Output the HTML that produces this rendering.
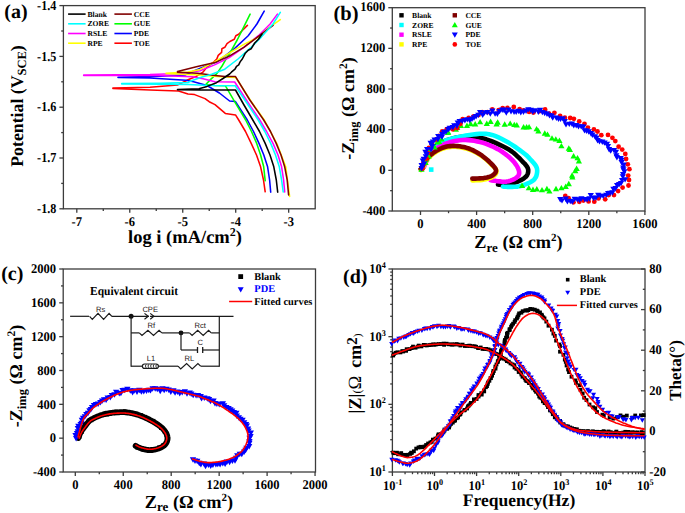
<!DOCTYPE html>
<html><head><meta charset="utf-8"><style>
html,body{margin:0;padding:0;background:#fff;width:685px;height:513px;overflow:hidden}
svg{display:block}
</style></head><body>
<svg width="685" height="513" viewBox="0 0 685 513" style="text-rendering:geometricPrecision">
<rect width="685" height="513" fill="#fff"/>
<rect x="63.40" y="5.60" width="251.80" height="203.20" fill="none" stroke="#3c3c3c" stroke-width="1.3"/>
<line x1="76.80" y1="208.80" x2="76.80" y2="212.80" stroke="#3c3c3c" stroke-width="1.3"/>
<text x="76.80" y="225.80" font-family="Liberation Serif" font-size="13.2" font-weight="bold" text-anchor="middle" fill="#000" textLength="10.45" lengthAdjust="spacingAndGlyphs">-7</text>
<line x1="129.77" y1="208.80" x2="129.77" y2="212.80" stroke="#3c3c3c" stroke-width="1.3"/>
<text x="129.77" y="225.80" font-family="Liberation Serif" font-size="13.2" font-weight="bold" text-anchor="middle" fill="#000" textLength="10.45" lengthAdjust="spacingAndGlyphs">-6</text>
<line x1="182.74" y1="208.80" x2="182.74" y2="212.80" stroke="#3c3c3c" stroke-width="1.3"/>
<text x="182.74" y="225.80" font-family="Liberation Serif" font-size="13.2" font-weight="bold" text-anchor="middle" fill="#000" textLength="10.45" lengthAdjust="spacingAndGlyphs">-5</text>
<line x1="235.71" y1="208.80" x2="235.71" y2="212.80" stroke="#3c3c3c" stroke-width="1.3"/>
<text x="235.71" y="225.80" font-family="Liberation Serif" font-size="13.2" font-weight="bold" text-anchor="middle" fill="#000" textLength="10.45" lengthAdjust="spacingAndGlyphs">-4</text>
<line x1="288.68" y1="208.80" x2="288.68" y2="212.80" stroke="#3c3c3c" stroke-width="1.3"/>
<text x="288.68" y="225.80" font-family="Liberation Serif" font-size="13.2" font-weight="bold" text-anchor="middle" fill="#000" textLength="10.45" lengthAdjust="spacingAndGlyphs">-3</text>
<line x1="103.28" y1="208.80" x2="103.28" y2="211.00" stroke="#3c3c3c" stroke-width="1.3"/>
<line x1="156.25" y1="208.80" x2="156.25" y2="211.00" stroke="#3c3c3c" stroke-width="1.3"/>
<line x1="209.23" y1="208.80" x2="209.23" y2="211.00" stroke="#3c3c3c" stroke-width="1.3"/>
<line x1="262.19" y1="208.80" x2="262.19" y2="211.00" stroke="#3c3c3c" stroke-width="1.3"/>
<line x1="59.40" y1="5.60" x2="63.40" y2="5.60" stroke="#3c3c3c" stroke-width="1.3"/>
<text x="56.30" y="9.70" font-family="Liberation Serif" font-size="13.6" font-weight="bold" text-anchor="end" fill="#000" textLength="19.2" lengthAdjust="spacingAndGlyphs">-1.4</text>
<line x1="59.40" y1="56.40" x2="63.40" y2="56.40" stroke="#3c3c3c" stroke-width="1.3"/>
<text x="56.30" y="60.50" font-family="Liberation Serif" font-size="13.6" font-weight="bold" text-anchor="end" fill="#000" textLength="19.2" lengthAdjust="spacingAndGlyphs">-1.5</text>
<line x1="59.40" y1="107.20" x2="63.40" y2="107.20" stroke="#3c3c3c" stroke-width="1.3"/>
<text x="56.30" y="111.30" font-family="Liberation Serif" font-size="13.6" font-weight="bold" text-anchor="end" fill="#000" textLength="19.2" lengthAdjust="spacingAndGlyphs">-1.6</text>
<line x1="59.40" y1="158.00" x2="63.40" y2="158.00" stroke="#3c3c3c" stroke-width="1.3"/>
<text x="56.30" y="162.10" font-family="Liberation Serif" font-size="13.6" font-weight="bold" text-anchor="end" fill="#000" textLength="19.2" lengthAdjust="spacingAndGlyphs">-1.7</text>
<line x1="59.40" y1="208.80" x2="63.40" y2="208.80" stroke="#3c3c3c" stroke-width="1.3"/>
<text x="56.30" y="212.90" font-family="Liberation Serif" font-size="13.6" font-weight="bold" text-anchor="end" fill="#000" textLength="19.2" lengthAdjust="spacingAndGlyphs">-1.8</text>
<line x1="61.20" y1="31.00" x2="63.40" y2="31.00" stroke="#3c3c3c" stroke-width="1.3"/>
<line x1="61.20" y1="81.80" x2="63.40" y2="81.80" stroke="#3c3c3c" stroke-width="1.3"/>
<line x1="61.20" y1="132.60" x2="63.40" y2="132.60" stroke="#3c3c3c" stroke-width="1.3"/>
<line x1="61.20" y1="183.40" x2="63.40" y2="183.40" stroke="#3c3c3c" stroke-width="1.3"/>
<text x="16.00" y="17.60" font-family="Liberation Serif" font-size="20" font-weight="bold" text-anchor="middle" fill="#000" >(a)</text>
<text x="0" y="0" font-family="Liberation Serif" font-size="17.8" font-weight="bold" text-anchor="middle" transform="translate(23.2,106) rotate(-90)">Potential (V<tspan font-size="12.5" dy="3">SCE</tspan><tspan dy="-3">)</tspan></text>
<text x="185" y="242.5" font-family="Liberation Serif" font-size="18.5" font-weight="bold" text-anchor="middle">log i (mA/cm<tspan font-size="12" dy="-7">2</tspan><tspan dy="7">)</tspan></text>
<line x1="68.10" y1="14.10" x2="85.60" y2="14.10" stroke="#000000" stroke-width="1.6"/>
<text x="87.50" y="16.70" font-family="Liberation Serif" font-size="7.6" font-weight="bold" text-anchor="start" fill="#000" >Blank</text>
<line x1="68.10" y1="23.80" x2="85.60" y2="23.80" stroke="#00ffff" stroke-width="1.6"/>
<text x="87.50" y="26.40" font-family="Liberation Serif" font-size="7.6" font-weight="bold" text-anchor="start" fill="#000" >ZORE</text>
<line x1="68.10" y1="33.50" x2="85.60" y2="33.50" stroke="#ff00ff" stroke-width="1.6"/>
<text x="87.50" y="36.10" font-family="Liberation Serif" font-size="7.6" font-weight="bold" text-anchor="start" fill="#000" >RSLE</text>
<line x1="68.10" y1="43.20" x2="85.60" y2="43.20" stroke="#ffff00" stroke-width="1.6"/>
<text x="87.50" y="45.80" font-family="Liberation Serif" font-size="7.6" font-weight="bold" text-anchor="start" fill="#000" >RPE</text>
<line x1="114.40" y1="14.10" x2="131.90" y2="14.10" stroke="#800000" stroke-width="1.6"/>
<text x="133.80" y="16.70" font-family="Liberation Serif" font-size="7.6" font-weight="bold" text-anchor="start" fill="#000" >CCE</text>
<line x1="114.40" y1="23.80" x2="131.90" y2="23.80" stroke="#00ff00" stroke-width="1.6"/>
<text x="133.80" y="26.40" font-family="Liberation Serif" font-size="7.6" font-weight="bold" text-anchor="start" fill="#000" >GUE</text>
<line x1="114.40" y1="33.50" x2="131.90" y2="33.50" stroke="#0000ff" stroke-width="1.6"/>
<text x="133.80" y="36.10" font-family="Liberation Serif" font-size="7.6" font-weight="bold" text-anchor="start" fill="#000" >PDE</text>
<line x1="114.40" y1="43.20" x2="131.90" y2="43.20" stroke="#ff0000" stroke-width="1.6"/>
<text x="133.80" y="45.80" font-family="Liberation Serif" font-size="7.6" font-weight="bold" text-anchor="start" fill="#000" >TOE</text>
<polyline points="265.2,191.8 263.5,180.0 260.6,166.8 256.5,155.0 251.2,143.4 245.5,131.5 238.7,120.0 235.5,114.9 225.3,113.4 215.0,104.6 209.2,101.7 205.0,98.6 194.6,94.6 188.0,93.9 178.5,91.1 150.0,90.1 112.9,88.6 112.9,88.1 150.0,87.3 177.4,85.1 188.6,79.5 196.0,76.5 202.9,72.2 205.8,68.5 208.0,66.3 210.9,64.1 213.9,61.9 216.8,59.0 218.2,55.4 221.6,52.4 221.9,48.8 224.8,47.3 227.0,43.7 229.9,41.5 234.3,39.3 235.8,35.7 238.7,34.2 242.3,30.5 247.4,25.4" fill="none" stroke="#ff0000" stroke-width="1.55" stroke-linejoin="round" stroke-linecap="round" />
<polyline points="270.7,192.1 269.6,180.0 267.6,166.8 263.8,155.0 259.0,143.4 253.5,131.5 247.3,120.0 235.5,101.6 229.6,101.0 219.4,93.0 207.0,85.5 193.6,81.7 186.0,80.2 150.0,77.9 118.0,77.6 118.0,77.2 160.0,76.2 185.0,75.0 195.0,70.5 201.0,68.0 208.8,65.0 217.5,61.5 224.8,56.1 235.0,48.1 248.2,35.7 256.9,24.0 264.2,11.1" fill="none" stroke="#0000ff" stroke-width="1.55" stroke-linejoin="round" stroke-linecap="round" />
<polyline points="265.2,180.8 263.7,166.8 260.6,155.0 256.7,143.4 251.5,131.5 245.7,120.0 235.5,103.2 225.3,85.7 215.0,85.4 206.0,84.5 206.0,84.2 210.7,79.4 216.8,73.6 221.9,66.3 226.0,59.0 230.7,51.7 237.2,40.0 243.8,26.9 250.1,14.1" fill="none" stroke="#00ff00" stroke-width="1.55" stroke-linejoin="round" stroke-linecap="round" />
<polyline points="284.7,192.0 283.6,180.0 281.6,166.8 278.0,155.0 273.0,143.4 266.6,131.5 259.8,120.0 247.0,101.0 234.7,82.0 215.0,81.8 203.0,78.7 192.7,76.8 150.0,75.2 83.7,75.4 83.7,75.1 150.0,74.4 180.0,73.4 200.0,70.8 214.6,64.9 229.2,57.6 243.8,47.3 258.4,35.7 270.1,24.0 277.4,14.1" fill="none" stroke="#ff00ff" stroke-width="1.55" stroke-linejoin="round" stroke-linecap="round" />
<polyline points="289.6,196.4 285.8,167.0 277.0,143.8 264.6,120.5 250.5,100.5 235.8,77.5 220.0,76.8 200.0,75.0 166.0,73.6 166.0,73.2 188.0,72.0 200.0,69.4 214.6,62.0 229.2,53.2 243.8,44.4 258.4,37.1 270.1,26.9 280.3,19.6" fill="none" stroke="#ffff00" stroke-width="1.55" stroke-linejoin="round" stroke-linecap="round" />
<polyline points="288.6,194.9 287.2,180.0 284.7,166.8 281.0,155.0 276.2,143.4 270.5,131.5 263.7,120.0 249.5,99.5 235.5,76.6 225.0,76.5 215.0,75.4 197.4,73.2 177.5,72.2 177.5,71.6 197.4,66.6 215.0,62.6 229.2,56.1 243.8,47.3 258.4,36.4 273.0,25.4" fill="none" stroke="#800000" stroke-width="1.55" stroke-linejoin="round" stroke-linecap="round" />
<polyline points="283.2,192.0 281.6,180.0 279.3,166.8 275.5,155.0 270.7,143.4 264.8,131.5 258.2,120.0 246.5,102.5 235.2,85.7 210.0,85.4 188.0,84.6 160.0,84.2 121.7,84.0 121.7,83.6 160.0,83.2 188.0,82.5 193.6,79.9 202.0,77.0 211.7,74.3 224.8,69.2 238.0,59.0 251.1,47.3 261.3,37.1 273.0,24.0 280.3,12.3" fill="none" stroke="#00ffff" stroke-width="1.55" stroke-linejoin="round" stroke-linecap="round" />
<polyline points="277.7,192.1 276.3,180.0 273.8,166.8 270.0,155.0 265.2,143.4 259.5,131.5 252.8,120.0 244.0,105.0 235.5,90.0 200.0,89.9 177.5,89.8 177.5,89.6 199.0,88.8 207.0,86.4 216.5,82.7 223.0,78.5 229.6,74.0 231.4,72.2 235.0,69.2 236.5,66.3 238.7,64.9 240.1,61.9 242.3,59.0 243.8,56.1 245.3,53.2 248.2,50.3 251.1,48.8 254.7,43.0 258.4,39.3 262.0,34.0" fill="none" stroke="#000000" stroke-width="1.55" stroke-linejoin="round" stroke-linecap="round" />
<rect x="392.30" y="7.70" width="252.70" height="203.30" fill="none" stroke="#3c3c3c" stroke-width="1.3"/>
<line x1="420.50" y1="211.00" x2="420.50" y2="215.00" stroke="#3c3c3c" stroke-width="1.3"/>
<text x="420.50" y="227.60" font-family="Liberation Serif" font-size="13.2" font-weight="bold" text-anchor="middle" fill="#000" textLength="6.27" lengthAdjust="spacingAndGlyphs">0</text>
<line x1="476.60" y1="211.00" x2="476.60" y2="215.00" stroke="#3c3c3c" stroke-width="1.3"/>
<text x="476.60" y="227.60" font-family="Liberation Serif" font-size="13.2" font-weight="bold" text-anchor="middle" fill="#000" textLength="18.81" lengthAdjust="spacingAndGlyphs">400</text>
<line x1="532.70" y1="211.00" x2="532.70" y2="215.00" stroke="#3c3c3c" stroke-width="1.3"/>
<text x="532.70" y="227.60" font-family="Liberation Serif" font-size="13.2" font-weight="bold" text-anchor="middle" fill="#000" textLength="18.81" lengthAdjust="spacingAndGlyphs">800</text>
<line x1="588.80" y1="211.00" x2="588.80" y2="215.00" stroke="#3c3c3c" stroke-width="1.3"/>
<text x="588.80" y="227.60" font-family="Liberation Serif" font-size="13.2" font-weight="bold" text-anchor="middle" fill="#000" textLength="25.08" lengthAdjust="spacingAndGlyphs">1200</text>
<line x1="644.90" y1="211.00" x2="644.90" y2="215.00" stroke="#3c3c3c" stroke-width="1.3"/>
<text x="644.90" y="227.60" font-family="Liberation Serif" font-size="13.2" font-weight="bold" text-anchor="middle" fill="#000" textLength="25.08" lengthAdjust="spacingAndGlyphs">1600</text>
<line x1="448.55" y1="211.00" x2="448.55" y2="213.20" stroke="#3c3c3c" stroke-width="1.3"/>
<line x1="504.65" y1="211.00" x2="504.65" y2="213.20" stroke="#3c3c3c" stroke-width="1.3"/>
<line x1="560.75" y1="211.00" x2="560.75" y2="213.20" stroke="#3c3c3c" stroke-width="1.3"/>
<line x1="616.85" y1="211.00" x2="616.85" y2="213.20" stroke="#3c3c3c" stroke-width="1.3"/>
<line x1="388.30" y1="211.00" x2="392.30" y2="211.00" stroke="#3c3c3c" stroke-width="1.3"/>
<text x="385.40" y="214.70" font-family="Liberation Serif" font-size="13.2" font-weight="bold" text-anchor="end" fill="#000" textLength="22.99" lengthAdjust="spacingAndGlyphs">-400</text>
<line x1="388.30" y1="170.34" x2="392.30" y2="170.34" stroke="#3c3c3c" stroke-width="1.3"/>
<text x="385.40" y="174.04" font-family="Liberation Serif" font-size="13.2" font-weight="bold" text-anchor="end" fill="#000" textLength="6.27" lengthAdjust="spacingAndGlyphs">0</text>
<line x1="388.30" y1="129.68" x2="392.30" y2="129.68" stroke="#3c3c3c" stroke-width="1.3"/>
<text x="385.40" y="133.38" font-family="Liberation Serif" font-size="13.2" font-weight="bold" text-anchor="end" fill="#000" textLength="18.81" lengthAdjust="spacingAndGlyphs">400</text>
<line x1="388.30" y1="89.02" x2="392.30" y2="89.02" stroke="#3c3c3c" stroke-width="1.3"/>
<text x="385.40" y="92.72" font-family="Liberation Serif" font-size="13.2" font-weight="bold" text-anchor="end" fill="#000" textLength="18.81" lengthAdjust="spacingAndGlyphs">800</text>
<line x1="388.30" y1="48.36" x2="392.30" y2="48.36" stroke="#3c3c3c" stroke-width="1.3"/>
<text x="385.40" y="52.06" font-family="Liberation Serif" font-size="13.2" font-weight="bold" text-anchor="end" fill="#000" textLength="25.08" lengthAdjust="spacingAndGlyphs">1200</text>
<line x1="388.30" y1="7.70" x2="392.30" y2="7.70" stroke="#3c3c3c" stroke-width="1.3"/>
<text x="385.40" y="11.40" font-family="Liberation Serif" font-size="13.2" font-weight="bold" text-anchor="end" fill="#000" textLength="25.08" lengthAdjust="spacingAndGlyphs">1600</text>
<line x1="390.10" y1="190.67" x2="392.30" y2="190.67" stroke="#3c3c3c" stroke-width="1.3"/>
<line x1="390.10" y1="150.01" x2="392.30" y2="150.01" stroke="#3c3c3c" stroke-width="1.3"/>
<line x1="390.10" y1="109.35" x2="392.30" y2="109.35" stroke="#3c3c3c" stroke-width="1.3"/>
<line x1="390.10" y1="68.69" x2="392.30" y2="68.69" stroke="#3c3c3c" stroke-width="1.3"/>
<line x1="390.10" y1="28.03" x2="392.30" y2="28.03" stroke="#3c3c3c" stroke-width="1.3"/>
<text x="346.00" y="20.40" font-family="Liberation Serif" font-size="20.5" font-weight="bold" text-anchor="middle" fill="#000" >(b)</text>
<text x="0" y="0" font-family="Liberation Serif" font-size="18" font-weight="bold" text-anchor="middle" transform="translate(353.6,108.5) rotate(-90)">-Z<tspan font-size="12.5" dy="4">img</tspan><tspan dy="-4"> (Ω cm</tspan><tspan font-size="11.5" dy="-7">2</tspan><tspan dy="7">)</tspan></text>
<text x="518.5" y="248.3" font-family="Liberation Serif" font-size="18.3" font-weight="bold" text-anchor="middle">Z<tspan font-size="13" dy="3.5">re</tspan><tspan dy="-3.5"> (Ω cm</tspan><tspan font-size="11" dy="-7">2</tspan><tspan dy="7">)</tspan></text>
<rect x="399.3" y="13.1" width="4.4" height="4.4" fill="#000000"/>
<text x="412.10" y="17.90" font-family="Liberation Serif" font-size="7.6" font-weight="bold" text-anchor="start" fill="#000" >Blank</text>
<rect x="399.3" y="22.8" width="4.4" height="4.4" fill="#00ffff"/>
<text x="412.10" y="27.60" font-family="Liberation Serif" font-size="7.6" font-weight="bold" text-anchor="start" fill="#000" >ZORE</text>
<rect x="399.3" y="32.5" width="4.4" height="4.4" fill="#ff00ff"/>
<text x="412.10" y="37.30" font-family="Liberation Serif" font-size="7.6" font-weight="bold" text-anchor="start" fill="#000" >RSLE</text>
<rect x="399.3" y="42.2" width="4.4" height="4.4" fill="#ffff00"/>
<text x="412.10" y="47.00" font-family="Liberation Serif" font-size="7.6" font-weight="bold" text-anchor="start" fill="#000" >RPE</text>
<rect x="452.6" y="13.1" width="4.4" height="4.4" fill="#800000"/>
<text x="465.40" y="17.90" font-family="Liberation Serif" font-size="7.6" font-weight="bold" text-anchor="start" fill="#000" >CCE</text>
<path d="M454.8,22.0L457.8,27.2L451.8,27.2Z" fill="#00ff00"/>
<text x="465.40" y="27.60" font-family="Liberation Serif" font-size="7.6" font-weight="bold" text-anchor="start" fill="#000" >GUE</text>
<path d="M454.8,37.7L457.8,32.5L451.8,32.5Z" fill="#0000ff"/>
<text x="465.40" y="37.30" font-family="Liberation Serif" font-size="7.6" font-weight="bold" text-anchor="start" fill="#000" >PDE</text>
<circle cx="454.8" cy="44.4" r="2.3" fill="#ff0000"/>
<text x="465.40" y="47.00" font-family="Liberation Serif" font-size="7.6" font-weight="bold" text-anchor="start" fill="#000" >TOE</text>
<rect x="428.9" y="167.3" width="4.6" height="4.6" fill="#00ffff"/>
<polyline points="423.0,168.0 423.4,166.9 424.0,165.3 424.7,163.5 425.4,161.6 426.2,159.7 427.0,158.0 427.7,156.6 428.3,155.2 428.9,153.9 429.7,152.7 430.7,151.4 432.0,150.0 433.7,148.5 435.6,146.9 437.7,145.3 440.0,143.7 442.5,142.2 445.0,141.0 447.7,140.0 450.5,139.1 453.5,138.3 456.6,137.6 459.6,137.1 462.6,136.8 465.5,136.6 468.5,136.5 471.4,136.6 474.3,136.8 477.3,137.2 480.2,137.7 483.2,138.4 486.2,139.3 489.2,140.4 492.1,141.5 495.0,142.7 497.7,143.9 500.3,145.1 502.8,146.3 505.2,147.5 507.5,148.8 509.7,150.1 511.8,151.5 513.8,153.0 515.6,154.6 517.4,156.3 519.1,157.9 520.6,159.5 522.0,161.0 523.3,162.4 524.6,163.6 525.7,164.9 526.6,166.1 527.4,167.3 527.9,168.5 528.2,169.8 528.2,171.1 528.1,172.4 527.8,173.6 527.2,174.9 526.5,176.0 525.5,177.1 524.3,178.1 522.9,179.0 521.3,179.9 519.7,180.7 518.0,181.5 516.2,182.2 514.2,182.9 512.2,183.5 510.1,184.0 508.2,184.5 506.4,184.8 504.7,185.0 503.1,185.0 501.5,184.9 500.1,184.7 498.9,184.6 498.0,184.5" fill="none" stroke="#000000" stroke-width="4.6" stroke-linejoin="round" stroke-linecap="round" />
<polyline points="425.5,162.0 425.8,161.4 426.1,160.6 426.5,159.6 427.0,158.5 427.5,157.5 428.0,156.5 428.5,155.6 429.1,154.7 429.7,153.8 430.4,152.9 431.1,151.9 432.0,151.0 433.0,150.0 434.1,149.0 435.2,148.0 436.5,146.9 437.7,145.9 439.0,145.0 440.1,144.1 441.1,143.3 442.0,142.4 443.2,141.6 444.8,140.8 447.0,140.0 450.0,139.1 453.6,138.2 457.6,137.2 461.8,136.4 465.8,135.6 469.6,135.0 473.0,134.5 476.4,134.1 479.6,133.8 482.8,133.7 485.9,133.8 489.0,134.2 492.0,134.9 495.0,135.9 498.0,137.1 500.9,138.5 503.7,140.0 506.5,141.5 509.3,143.1 512.2,144.9 515.0,146.7 517.6,148.6 520.1,150.4 522.3,152.0 524.2,153.5 525.8,154.8 527.3,156.1 528.6,157.4 529.8,158.7 531.0,160.0 532.3,161.4 533.5,162.8 534.7,164.2 535.7,165.6 536.5,167.1 537.0,168.7 537.2,170.4 537.1,172.3 536.8,174.2 536.3,176.1 535.4,177.8 534.3,179.4 532.7,180.8 530.7,182.0 528.4,183.2 526.0,184.2 523.6,185.1 521.5,185.8 519.5,186.3 517.6,186.6 515.8,186.8 514.0,186.8 512.3,186.9 510.7,186.9 509.1,186.9 507.6,186.9 506.2,186.8 504.9,186.7 503.8,186.6 503.0,186.5" fill="none" stroke="#00ffff" stroke-width="4.6" stroke-linejoin="round" stroke-linecap="round" />
<polyline points="424.0,167.0 424.3,166.2 424.7,165.2 425.2,164.0 425.8,162.6 426.4,161.3 427.0,160.0 427.5,158.8 427.9,157.6 428.3,156.4 428.9,155.2 429.7,153.9 431.0,152.6 432.7,151.2 434.8,149.6 437.2,148.0 439.8,146.5 442.4,145.1 445.1,143.9 447.8,142.9 450.7,142.0 453.6,141.3 456.6,140.7 459.6,140.2 462.6,140.0 465.5,139.9 468.5,140.1 471.4,140.4 474.3,140.8 477.3,141.4 480.2,142.1 483.2,142.9 486.2,143.9 489.2,145.1 492.1,146.3 495.0,147.7 497.7,149.1 500.3,150.6 502.9,152.3 505.4,154.1 507.8,156.0 509.9,157.8 511.8,159.6 513.5,161.4 515.0,163.3 516.3,165.1 517.4,166.9 518.2,168.6 518.8,170.2 519.1,171.6 519.2,172.9 519.0,174.1 518.6,175.2 517.9,176.2 517.0,177.2 515.8,178.1 514.2,179.1 512.4,179.9 510.5,180.6 508.5,181.2 506.5,181.6 504.5,181.8 502.2,181.7 499.9,181.4 497.7,181.2 495.8,180.9 494.2,180.7 493.1,180.6 492.2,180.5 491.6,180.4 491.2,180.4 490.9,180.3 490.6,180.3" fill="none" stroke="#ff00ff" stroke-width="4.6" stroke-linejoin="round" stroke-linecap="round" />
<polyline points="421.0,170.0 421.2,169.8 421.4,169.6 421.7,169.3 422.0,168.9 422.5,168.3 423.0,167.5 423.6,166.4 424.3,164.9 425.1,163.3 426.0,161.6 426.9,160.0 428.0,158.5 429.2,157.2 430.6,155.9 432.0,154.7 433.5,153.5 435.0,152.5 436.5,151.5 438.0,150.7 439.4,149.9 440.9,149.3 442.4,148.7 443.9,148.2 445.5,147.8 447.1,147.4 448.7,147.1 450.3,146.9 452.0,146.8 453.8,146.8 455.6,146.8 457.5,146.9 459.6,147.1 461.7,147.5 463.8,147.9 465.9,148.4 468.0,149.0 470.1,149.8 472.2,150.7 474.4,151.7 476.5,152.8 478.5,154.0 480.5,155.2 482.4,156.5 484.3,158.0 486.2,159.5 487.9,161.1 489.6,162.6 491.0,164.0 492.3,165.3 493.5,166.5 494.6,167.7 495.5,168.8 496.2,169.9 496.5,171.0 496.5,172.0 496.2,173.0 495.7,174.0 494.9,174.9 494.0,175.7 493.0,176.5 491.8,177.2 490.5,177.8 489.0,178.3 487.4,178.8 485.7,179.2 484.0,179.6 482.1,179.9 479.9,180.1 477.7,180.2 475.6,180.3 473.8,180.4 472.5,180.5" fill="none" stroke="#ffff00" stroke-width="4.6" stroke-linejoin="round" stroke-linecap="round" />
<polyline points="420.5,169.0 420.7,168.9 420.8,168.7 421.1,168.6 421.4,168.3 421.8,167.8 422.3,167.0 422.9,165.9 423.6,164.4 424.5,162.8 425.4,161.0 426.4,159.4 427.5,157.9 428.8,156.6 430.2,155.3 431.7,154.1 433.2,152.9 434.8,151.9 436.3,150.9 437.7,150.0 439.2,149.3 440.6,148.6 442.0,148.0 443.5,147.4 445.1,147.0 446.7,146.6 448.4,146.3 450.1,146.1 451.9,146.0 453.7,145.9 455.6,146.0 457.5,146.1 459.6,146.3 461.6,146.7 463.7,147.1 465.8,147.6 467.9,148.2 470.0,149.0 472.1,149.9 474.2,150.9 476.2,152.0 478.3,153.2 480.2,154.4 482.1,155.7 484.0,157.2 485.9,158.8 487.7,160.3 489.3,161.8 490.7,163.2 492.0,164.5 493.2,165.7 494.2,166.9 495.1,168.1 495.7,169.2 496.0,170.2 496.0,171.2 495.7,172.2 495.1,173.1 494.4,173.9 493.5,174.7 492.5,175.4 491.4,176.0 490.1,176.6 488.6,177.0 487.0,177.5 485.4,177.8 483.7,178.1 481.8,178.3 479.7,178.4 477.4,178.5 475.4,178.6 473.6,178.6 472.3,178.6" fill="none" stroke="#800000" stroke-width="4.6" stroke-linejoin="round" stroke-linecap="round" />
<path d="M421.5,166.3L424.6,171.7L418.4,171.7Z" fill="#00ff00"/>
<path d="M425.6,159.6L428.7,165.0L422.5,165.0Z" fill="#00ff00"/>
<path d="M426.2,156.1L429.3,161.5L423.1,161.5Z" fill="#00ff00"/>
<path d="M428.7,153.2L431.8,158.6L425.6,158.6Z" fill="#00ff00"/>
<path d="M428.9,146.3L432.0,151.7L425.8,151.7Z" fill="#00ff00"/>
<path d="M434.6,144.2L437.7,149.6L431.5,149.6Z" fill="#00ff00"/>
<path d="M437.2,139.0L440.4,144.4L434.1,144.4Z" fill="#00ff00"/>
<path d="M439.1,138.5L442.2,143.9L436.0,143.9Z" fill="#00ff00"/>
<path d="M441.6,136.2L444.7,141.6L438.5,141.6Z" fill="#00ff00"/>
<path d="M447.9,129.7L451.0,135.1L444.8,135.1Z" fill="#00ff00"/>
<path d="M448.2,129.2L451.3,134.6L445.1,134.6Z" fill="#00ff00"/>
<path d="M455.9,126.3L459.0,131.7L452.8,131.7Z" fill="#00ff00"/>
<path d="M457.2,124.7L460.3,130.1L454.1,130.1Z" fill="#00ff00"/>
<path d="M460.9,122.5L464.0,127.9L457.8,127.9Z" fill="#00ff00"/>
<path d="M467.0,122.6L470.1,128.0L463.9,128.0Z" fill="#00ff00"/>
<path d="M470.7,120.8L473.8,126.2L467.6,126.2Z" fill="#00ff00"/>
<path d="M475.2,121.1L478.3,126.5L472.1,126.5Z" fill="#00ff00"/>
<path d="M480.1,118.9L483.2,124.3L477.0,124.3Z" fill="#00ff00"/>
<path d="M486.8,120.5L489.9,125.9L483.7,125.9Z" fill="#00ff00"/>
<path d="M490.6,118.6L493.7,124.0L487.5,124.0Z" fill="#00ff00"/>
<path d="M496.6,121.1L499.7,126.5L493.5,126.5Z" fill="#00ff00"/>
<path d="M497.7,119.3L500.8,124.7L494.6,124.7Z" fill="#00ff00"/>
<path d="M504.7,121.3L507.8,126.7L501.6,126.7Z" fill="#00ff00"/>
<path d="M510.2,120.4L513.3,125.8L507.1,125.8Z" fill="#00ff00"/>
<path d="M514.3,121.7L517.4,127.1L511.2,127.1Z" fill="#00ff00"/>
<path d="M516.8,122.0L519.9,127.4L513.7,127.4Z" fill="#00ff00"/>
<path d="M523.6,124.0L526.7,129.4L520.5,129.4Z" fill="#00ff00"/>
<path d="M526.6,124.0L529.7,129.4L523.5,129.4Z" fill="#00ff00"/>
<path d="M529.1,123.9L532.2,129.3L526.0,129.3Z" fill="#00ff00"/>
<path d="M536.6,125.9L539.7,131.3L533.5,131.3Z" fill="#00ff00"/>
<path d="M538.4,128.0L541.5,133.4L535.3,133.4Z" fill="#00ff00"/>
<path d="M544.8,130.3L547.9,135.7L541.7,135.7Z" fill="#00ff00"/>
<path d="M547.5,131.4L550.6,136.8L544.4,136.8Z" fill="#00ff00"/>
<path d="M552.0,135.2L555.1,140.6L548.9,140.6Z" fill="#00ff00"/>
<path d="M555.8,136.2L558.9,141.6L552.7,141.6Z" fill="#00ff00"/>
<path d="M559.4,137.5L562.6,142.9L556.3,142.9Z" fill="#00ff00"/>
<path d="M561.4,142.9L564.5,148.3L558.3,148.3Z" fill="#00ff00"/>
<path d="M568.8,145.3L571.9,150.7L565.7,150.7Z" fill="#00ff00"/>
<path d="M569.9,146.6L573.0,152.0L566.8,152.0Z" fill="#00ff00"/>
<path d="M573.6,153.1L576.7,158.5L570.5,158.5Z" fill="#00ff00"/>
<path d="M577.5,154.9L580.6,160.3L574.4,160.3Z" fill="#00ff00"/>
<path d="M578.9,158.1L582.0,163.5L575.8,163.5Z" fill="#00ff00"/>
<path d="M576.6,165.5L579.8,170.9L573.5,170.9Z" fill="#00ff00"/>
<path d="M575.3,167.8L578.4,173.2L572.2,173.2Z" fill="#00ff00"/>
<path d="M572.1,172.3L575.2,177.7L569.0,177.7Z" fill="#00ff00"/>
<path d="M572.4,174.0L575.5,179.4L569.3,179.4Z" fill="#00ff00"/>
<path d="M568.8,180.8L571.9,186.2L565.7,186.2Z" fill="#00ff00"/>
<path d="M565.7,183.5L568.8,188.9L562.6,188.9Z" fill="#00ff00"/>
<path d="M561.4,184.9L564.5,190.3L558.3,190.3Z" fill="#00ff00"/>
<path d="M556.0,185.8L559.1,191.2L552.9,191.2Z" fill="#00ff00"/>
<path d="M549.4,188.2L552.5,193.6L546.3,193.6Z" fill="#00ff00"/>
<path d="M546.9,185.8L550.0,191.2L543.8,191.2Z" fill="#00ff00"/>
<path d="M542.0,186.9L545.1,192.3L538.9,192.3Z" fill="#00ff00"/>
<path d="M536.8,186.0L539.9,191.4L533.7,191.4Z" fill="#00ff00"/>
<path d="M533.0,186.6L536.1,192.0L529.9,192.0Z" fill="#00ff00"/>
<path d="M528.8,184.9L531.9,190.3L525.7,190.3Z" fill="#00ff00"/>
<path d="M522.1,182.5L525.2,187.9L519.0,187.9Z" fill="#00ff00"/>
<circle cx="422.5" cy="168.7" r="2.4" fill="#ff0000"/>
<circle cx="423.3" cy="163.2" r="2.4" fill="#ff0000"/>
<circle cx="426.6" cy="158.7" r="2.4" fill="#ff0000"/>
<circle cx="427.8" cy="153.1" r="2.4" fill="#ff0000"/>
<circle cx="428.9" cy="147.8" r="2.4" fill="#ff0000"/>
<circle cx="431.8" cy="143.3" r="2.4" fill="#ff0000"/>
<circle cx="435.8" cy="139.6" r="2.4" fill="#ff0000"/>
<circle cx="439.0" cy="135.8" r="2.4" fill="#ff0000"/>
<circle cx="442.2" cy="131.4" r="2.4" fill="#ff0000"/>
<circle cx="446.7" cy="129.2" r="2.4" fill="#ff0000"/>
<circle cx="452.7" cy="129.3" r="2.4" fill="#ff0000"/>
<circle cx="457.3" cy="128.1" r="2.4" fill="#ff0000"/>
<circle cx="460.5" cy="123.8" r="2.4" fill="#ff0000"/>
<circle cx="462.7" cy="119.2" r="2.4" fill="#ff0000"/>
<circle cx="468.7" cy="117.8" r="2.4" fill="#ff0000"/>
<circle cx="473.6" cy="116.3" r="2.4" fill="#ff0000"/>
<circle cx="478.5" cy="115.0" r="2.4" fill="#ff0000"/>
<circle cx="482.2" cy="112.1" r="2.4" fill="#ff0000"/>
<circle cx="487.5" cy="112.2" r="2.4" fill="#ff0000"/>
<circle cx="492.3" cy="109.4" r="2.4" fill="#ff0000"/>
<circle cx="498.7" cy="110.1" r="2.4" fill="#ff0000"/>
<circle cx="502.7" cy="108.2" r="2.4" fill="#ff0000"/>
<circle cx="507.5" cy="108.0" r="2.4" fill="#ff0000"/>
<circle cx="513.8" cy="106.9" r="2.4" fill="#ff0000"/>
<circle cx="519.6" cy="109.1" r="2.4" fill="#ff0000"/>
<circle cx="523.5" cy="110.4" r="2.4" fill="#ff0000"/>
<circle cx="529.1" cy="111.9" r="2.4" fill="#ff0000"/>
<circle cx="533.4" cy="112.6" r="2.4" fill="#ff0000"/>
<circle cx="539.2" cy="111.3" r="2.4" fill="#ff0000"/>
<circle cx="545.1" cy="109.4" r="2.4" fill="#ff0000"/>
<circle cx="549.1" cy="113.7" r="2.4" fill="#ff0000"/>
<circle cx="554.4" cy="112.8" r="2.4" fill="#ff0000"/>
<circle cx="560.1" cy="115.8" r="2.4" fill="#ff0000"/>
<circle cx="564.9" cy="117.7" r="2.4" fill="#ff0000"/>
<circle cx="570.2" cy="118.0" r="2.4" fill="#ff0000"/>
<circle cx="573.9" cy="118.8" r="2.4" fill="#ff0000"/>
<circle cx="579.2" cy="121.4" r="2.4" fill="#ff0000"/>
<circle cx="584.5" cy="123.8" r="2.4" fill="#ff0000"/>
<circle cx="587.9" cy="127.6" r="2.4" fill="#ff0000"/>
<circle cx="593.9" cy="129.4" r="2.4" fill="#ff0000"/>
<circle cx="597.5" cy="131.5" r="2.4" fill="#ff0000"/>
<circle cx="601.3" cy="135.2" r="2.4" fill="#ff0000"/>
<circle cx="608.0" cy="134.9" r="2.4" fill="#ff0000"/>
<circle cx="612.4" cy="137.8" r="2.4" fill="#ff0000"/>
<circle cx="615.3" cy="141.1" r="2.4" fill="#ff0000"/>
<circle cx="618.6" cy="146.7" r="2.4" fill="#ff0000"/>
<circle cx="622.2" cy="149.6" r="2.4" fill="#ff0000"/>
<circle cx="625.3" cy="153.9" r="2.4" fill="#ff0000"/>
<circle cx="626.1" cy="159.0" r="2.4" fill="#ff0000"/>
<circle cx="627.8" cy="164.3" r="2.4" fill="#ff0000"/>
<circle cx="629.4" cy="169.2" r="2.4" fill="#ff0000"/>
<circle cx="628.2" cy="175.6" r="2.4" fill="#ff0000"/>
<circle cx="629.0" cy="180.0" r="2.4" fill="#ff0000"/>
<circle cx="628.5" cy="185.5" r="2.4" fill="#ff0000"/>
<circle cx="622.6" cy="187.6" r="2.4" fill="#ff0000"/>
<circle cx="618.1" cy="191.1" r="2.4" fill="#ff0000"/>
<circle cx="614.0" cy="195.1" r="2.4" fill="#ff0000"/>
<circle cx="608.7" cy="195.0" r="2.4" fill="#ff0000"/>
<circle cx="605.2" cy="199.3" r="2.4" fill="#ff0000"/>
<circle cx="598.5" cy="198.4" r="2.4" fill="#ff0000"/>
<circle cx="594.3" cy="201.7" r="2.4" fill="#ff0000"/>
<circle cx="588.6" cy="201.4" r="2.4" fill="#ff0000"/>
<circle cx="583.3" cy="200.6" r="2.4" fill="#ff0000"/>
<circle cx="579.3" cy="201.8" r="2.4" fill="#ff0000"/>
<circle cx="573.5" cy="202.3" r="2.4" fill="#ff0000"/>
<circle cx="568.6" cy="198.2" r="2.4" fill="#ff0000"/>
<circle cx="565.3" cy="196.0" r="2.4" fill="#ff0000"/>
<path d="M421.6,171.4L424.7,166.0L418.5,166.0Z" fill="#0000ff"/>
<path d="M421.6,168.5L424.7,163.1L418.5,163.1Z" fill="#0000ff"/>
<path d="M424.1,166.8L427.2,161.4L421.0,161.4Z" fill="#0000ff"/>
<path d="M422.8,163.8L426.0,158.4L419.7,158.4Z" fill="#0000ff"/>
<path d="M423.7,162.2L426.8,156.8L420.6,156.8Z" fill="#0000ff"/>
<path d="M425.8,159.6L428.9,154.2L422.7,154.2Z" fill="#0000ff"/>
<path d="M426.7,157.3L429.8,151.9L423.5,151.9Z" fill="#0000ff"/>
<path d="M425.4,155.1L428.5,149.7L422.3,149.7Z" fill="#0000ff"/>
<path d="M427.1,152.3L430.2,146.9L424.0,146.9Z" fill="#0000ff"/>
<path d="M431.0,152.6L434.1,147.2L427.9,147.2Z" fill="#0000ff"/>
<path d="M432.1,149.5L435.2,144.1L429.0,144.1Z" fill="#0000ff"/>
<path d="M430.6,146.2L433.7,140.8L427.5,140.8Z" fill="#0000ff"/>
<path d="M432.9,144.9L436.0,139.5L429.8,139.5Z" fill="#0000ff"/>
<path d="M434.6,143.0L437.7,137.6L431.5,137.6Z" fill="#0000ff"/>
<path d="M437.9,142.4L441.0,137.0L434.8,137.0Z" fill="#0000ff"/>
<path d="M438.2,139.3L441.3,133.9L435.1,133.9Z" fill="#0000ff"/>
<path d="M442.0,140.0L445.1,134.6L438.9,134.6Z" fill="#0000ff"/>
<path d="M442.1,137.1L445.2,131.7L439.0,131.7Z" fill="#0000ff"/>
<path d="M444.0,135.3L447.1,129.9L440.9,129.9Z" fill="#0000ff"/>
<path d="M446.0,134.8L449.1,129.4L442.9,129.4Z" fill="#0000ff"/>
<path d="M448.2,132.4L451.3,127.0L445.1,127.0Z" fill="#0000ff"/>
<path d="M449.8,131.2L452.9,125.8L446.7,125.8Z" fill="#0000ff"/>
<path d="M452.7,130.5L455.8,125.1L449.6,125.1Z" fill="#0000ff"/>
<path d="M454.2,128.6L457.3,123.2L451.1,123.2Z" fill="#0000ff"/>
<path d="M456.9,129.0L460.0,123.6L453.8,123.6Z" fill="#0000ff"/>
<path d="M457.7,125.8L460.8,120.4L454.6,120.4Z" fill="#0000ff"/>
<path d="M459.6,124.3L462.7,118.9L456.5,118.9Z" fill="#0000ff"/>
<path d="M462.2,124.1L465.3,118.7L459.1,118.7Z" fill="#0000ff"/>
<path d="M464.9,123.4L468.0,118.0L461.8,118.0Z" fill="#0000ff"/>
<path d="M467.3,122.6L470.4,117.2L464.2,117.2Z" fill="#0000ff"/>
<path d="M469.7,123.3L472.8,117.9L466.6,117.9Z" fill="#0000ff"/>
<path d="M472.0,122.1L475.1,116.7L468.9,116.7Z" fill="#0000ff"/>
<path d="M474.0,120.7L477.1,115.3L470.9,115.3Z" fill="#0000ff"/>
<path d="M476.1,119.5L479.2,114.1L473.0,114.1Z" fill="#0000ff"/>
<path d="M478.3,118.1L481.4,112.7L475.2,112.7Z" fill="#0000ff"/>
<path d="M480.1,115.4L483.2,110.0L477.0,110.0Z" fill="#0000ff"/>
<path d="M482.7,118.1L485.8,112.7L479.6,112.7Z" fill="#0000ff"/>
<path d="M484.5,115.8L487.6,110.4L481.4,110.4Z" fill="#0000ff"/>
<path d="M487.2,115.4L490.3,110.0L484.1,110.0Z" fill="#0000ff"/>
<path d="M490.3,116.8L493.4,111.4L487.2,111.4Z" fill="#0000ff"/>
<path d="M492.4,113.9L495.5,108.5L489.2,108.5Z" fill="#0000ff"/>
<path d="M495.1,116.8L498.3,111.4L492.0,111.4Z" fill="#0000ff"/>
<path d="M497.4,117.0L500.5,111.6L494.3,111.6Z" fill="#0000ff"/>
<path d="M499.6,114.3L502.7,108.9L496.5,108.9Z" fill="#0000ff"/>
<path d="M502.2,113.0L505.3,107.6L499.1,107.6Z" fill="#0000ff"/>
<path d="M504.1,113.2L507.2,107.8L501.0,107.8Z" fill="#0000ff"/>
<path d="M506.3,115.7L509.4,110.3L503.2,110.3Z" fill="#0000ff"/>
<path d="M508.6,112.8L511.7,107.4L505.5,107.4Z" fill="#0000ff"/>
<path d="M511.0,114.6L514.1,109.2L507.9,109.2Z" fill="#0000ff"/>
<path d="M514.1,114.9L517.2,109.5L511.0,109.5Z" fill="#0000ff"/>
<path d="M516.2,115.1L519.3,109.7L513.1,109.7Z" fill="#0000ff"/>
<path d="M518.7,114.2L521.8,108.8L515.6,108.8Z" fill="#0000ff"/>
<path d="M520.8,115.6L523.9,110.2L517.7,110.2Z" fill="#0000ff"/>
<path d="M523.5,115.0L526.6,109.6L520.4,109.6Z" fill="#0000ff"/>
<path d="M526.1,114.0L529.2,108.6L523.0,108.6Z" fill="#0000ff"/>
<path d="M528.3,112.6L531.4,107.2L525.2,107.2Z" fill="#0000ff"/>
<path d="M530.9,113.2L534.0,107.8L527.8,107.8Z" fill="#0000ff"/>
<path d="M532.8,114.7L535.9,109.3L529.7,109.3Z" fill="#0000ff"/>
<path d="M535.1,113.7L538.2,108.3L532.0,108.3Z" fill="#0000ff"/>
<path d="M538.3,114.9L541.4,109.5L535.2,109.5Z" fill="#0000ff"/>
<path d="M540.1,113.2L543.2,107.8L537.0,107.8Z" fill="#0000ff"/>
<path d="M542.4,115.3L545.5,109.9L539.3,109.9Z" fill="#0000ff"/>
<path d="M544.7,116.2L547.8,110.8L541.6,110.8Z" fill="#0000ff"/>
<path d="M547.0,117.0L550.1,111.6L543.9,111.6Z" fill="#0000ff"/>
<path d="M549.5,118.4L552.6,113.0L546.4,113.0Z" fill="#0000ff"/>
<path d="M551.7,118.8L554.8,113.4L548.6,113.4Z" fill="#0000ff"/>
<path d="M552.7,120.8L555.8,115.4L549.6,115.4Z" fill="#0000ff"/>
<path d="M556.4,120.9L559.5,115.5L553.3,115.5Z" fill="#0000ff"/>
<path d="M558.5,121.9L561.6,116.5L555.4,116.5Z" fill="#0000ff"/>
<path d="M560.6,122.0L563.8,116.6L557.5,116.6Z" fill="#0000ff"/>
<path d="M563.0,121.8L566.1,116.4L559.9,116.4Z" fill="#0000ff"/>
<path d="M564.8,124.3L567.9,118.9L561.7,118.9Z" fill="#0000ff"/>
<path d="M566.0,127.6L569.1,122.2L562.9,122.2Z" fill="#0000ff"/>
<path d="M569.3,127.1L572.4,121.7L566.2,121.7Z" fill="#0000ff"/>
<path d="M572.0,126.9L575.1,121.5L568.9,121.5Z" fill="#0000ff"/>
<path d="M573.8,128.5L576.9,123.1L570.7,123.1Z" fill="#0000ff"/>
<path d="M576.2,128.4L579.3,123.0L573.1,123.0Z" fill="#0000ff"/>
<path d="M578.5,129.6L581.6,124.2L575.4,124.2Z" fill="#0000ff"/>
<path d="M581.2,129.6L584.3,124.2L578.1,124.2Z" fill="#0000ff"/>
<path d="M583.3,130.0L586.4,124.6L580.2,124.6Z" fill="#0000ff"/>
<path d="M584.6,133.6L587.7,128.2L581.4,128.2Z" fill="#0000ff"/>
<path d="M586.6,133.9L589.7,128.5L583.5,128.5Z" fill="#0000ff"/>
<path d="M588.7,134.7L591.8,129.3L585.6,129.3Z" fill="#0000ff"/>
<path d="M590.9,136.5L594.0,131.1L587.8,131.1Z" fill="#0000ff"/>
<path d="M592.4,138.0L595.5,132.6L589.3,132.6Z" fill="#0000ff"/>
<path d="M595.0,139.6L598.1,134.2L591.9,134.2Z" fill="#0000ff"/>
<path d="M596.5,141.2L599.6,135.8L593.4,135.8Z" fill="#0000ff"/>
<path d="M597.6,143.5L600.7,138.1L594.5,138.1Z" fill="#0000ff"/>
<path d="M599.5,144.6L602.6,139.2L596.4,139.2Z" fill="#0000ff"/>
<path d="M602.3,144.9L605.4,139.5L599.2,139.5Z" fill="#0000ff"/>
<path d="M604.5,145.8L607.7,140.4L601.4,140.4Z" fill="#0000ff"/>
<path d="M607.0,147.1L610.1,141.7L603.9,141.7Z" fill="#0000ff"/>
<path d="M608.0,149.3L611.1,143.9L604.8,143.9Z" fill="#0000ff"/>
<path d="M609.1,152.5L612.2,147.1L606.0,147.1Z" fill="#0000ff"/>
<path d="M610.7,153.8L613.8,148.4L607.6,148.4Z" fill="#0000ff"/>
<path d="M614.1,153.5L617.2,148.1L610.9,148.1Z" fill="#0000ff"/>
<path d="M616.0,155.1L619.1,149.7L612.9,149.7Z" fill="#0000ff"/>
<path d="M616.3,158.6L619.4,153.2L613.2,153.2Z" fill="#0000ff"/>
<path d="M616.9,160.5L620.0,155.1L613.8,155.1Z" fill="#0000ff"/>
<path d="M620.7,161.3L623.8,155.9L617.6,155.9Z" fill="#0000ff"/>
<path d="M621.4,163.2L624.5,157.8L618.3,157.8Z" fill="#0000ff"/>
<path d="M621.6,165.5L624.7,160.1L618.5,160.1Z" fill="#0000ff"/>
<path d="M623.7,167.9L626.8,162.5L620.6,162.5Z" fill="#0000ff"/>
<path d="M623.2,170.8L626.3,165.4L620.1,165.4Z" fill="#0000ff"/>
<path d="M623.4,172.6L626.6,167.2L620.3,167.2Z" fill="#0000ff"/>
<path d="M624.4,174.6L627.5,169.2L621.3,169.2Z" fill="#0000ff"/>
<path d="M623.1,177.5L626.2,172.1L620.0,172.1Z" fill="#0000ff"/>
<path d="M622.8,179.6L625.9,174.2L619.7,174.2Z" fill="#0000ff"/>
<path d="M625.1,182.6L628.2,177.2L622.0,177.2Z" fill="#0000ff"/>
<path d="M622.1,183.3L625.2,177.9L619.0,177.9Z" fill="#0000ff"/>
<path d="M621.0,186.3L624.1,180.9L617.9,180.9Z" fill="#0000ff"/>
<path d="M619.1,187.4L622.2,182.0L616.0,182.0Z" fill="#0000ff"/>
<path d="M617.1,188.5L620.2,183.1L614.0,183.1Z" fill="#0000ff"/>
<path d="M615.6,191.4L618.7,186.0L612.5,186.0Z" fill="#0000ff"/>
<path d="M613.5,192.2L616.6,186.8L610.3,186.8Z" fill="#0000ff"/>
<path d="M612.4,195.7L615.5,190.3L609.3,190.3Z" fill="#0000ff"/>
<path d="M610.2,196.1L613.3,190.7L607.1,190.7Z" fill="#0000ff"/>
<path d="M608.2,196.3L611.3,190.9L605.0,190.9Z" fill="#0000ff"/>
<path d="M606.2,198.1L609.4,192.7L603.1,192.7Z" fill="#0000ff"/>
<path d="M603.2,199.1L606.3,193.7L600.1,193.7Z" fill="#0000ff"/>
<path d="M600.6,199.1L603.7,193.7L597.5,193.7Z" fill="#0000ff"/>
<path d="M598.2,198.1L601.3,192.7L595.1,192.7Z" fill="#0000ff"/>
<path d="M596.0,200.8L599.1,195.4L592.9,195.4Z" fill="#0000ff"/>
<path d="M593.6,201.2L596.7,195.8L590.5,195.8Z" fill="#0000ff"/>
<path d="M590.8,198.5L593.9,193.1L587.7,193.1Z" fill="#0000ff"/>
<path d="M589.4,201.7L592.5,196.3L586.3,196.3Z" fill="#0000ff"/>
<path d="M587.1,202.6L590.2,197.2L584.0,197.2Z" fill="#0000ff"/>
<path d="M584.9,202.4L588.0,197.0L581.8,197.0Z" fill="#0000ff"/>
<path d="M581.4,201.6L584.5,196.2L578.3,196.2Z" fill="#0000ff"/>
<path d="M579.5,202.9L582.6,197.5L576.4,197.5Z" fill="#0000ff"/>
<path d="M577.3,202.6L580.4,197.2L574.2,197.2Z" fill="#0000ff"/>
<path d="M574.7,202.1L577.8,196.7L571.6,196.7Z" fill="#0000ff"/>
<path d="M572.4,204.8L575.5,199.4L569.3,199.4Z" fill="#0000ff"/>
<path d="M570.3,204.2L573.4,198.8L567.2,198.8Z" fill="#0000ff"/>
<path d="M567.4,204.6L570.5,199.2L564.3,199.2Z" fill="#0000ff"/>
<path d="M565.8,202.0L568.9,196.6L562.7,196.6Z" fill="#0000ff"/>
<path d="M562.0,203.6L565.1,198.2L558.9,198.2Z" fill="#0000ff"/>
<path d="M560.2,202.4L563.3,197.0L557.1,197.0Z" fill="#0000ff"/>
<rect x="63.20" y="269.00" width="252.30" height="203.00" fill="none" stroke="#3c3c3c" stroke-width="1.3"/>
<line x1="75.30" y1="472.00" x2="75.30" y2="476.00" stroke="#3c3c3c" stroke-width="1.3"/>
<text x="75.30" y="489.00" font-family="Liberation Serif" font-size="13.2" font-weight="bold" text-anchor="middle" fill="#000" textLength="6.27" lengthAdjust="spacingAndGlyphs">0</text>
<line x1="123.25" y1="472.00" x2="123.25" y2="476.00" stroke="#3c3c3c" stroke-width="1.3"/>
<text x="123.25" y="489.00" font-family="Liberation Serif" font-size="13.2" font-weight="bold" text-anchor="middle" fill="#000" textLength="18.81" lengthAdjust="spacingAndGlyphs">400</text>
<line x1="171.20" y1="472.00" x2="171.20" y2="476.00" stroke="#3c3c3c" stroke-width="1.3"/>
<text x="171.20" y="489.00" font-family="Liberation Serif" font-size="13.2" font-weight="bold" text-anchor="middle" fill="#000" textLength="18.81" lengthAdjust="spacingAndGlyphs">800</text>
<line x1="219.16" y1="472.00" x2="219.16" y2="476.00" stroke="#3c3c3c" stroke-width="1.3"/>
<text x="219.16" y="489.00" font-family="Liberation Serif" font-size="13.2" font-weight="bold" text-anchor="middle" fill="#000" textLength="25.08" lengthAdjust="spacingAndGlyphs">1200</text>
<line x1="267.11" y1="472.00" x2="267.11" y2="476.00" stroke="#3c3c3c" stroke-width="1.3"/>
<text x="267.11" y="489.00" font-family="Liberation Serif" font-size="13.2" font-weight="bold" text-anchor="middle" fill="#000" textLength="25.08" lengthAdjust="spacingAndGlyphs">1600</text>
<line x1="315.06" y1="472.00" x2="315.06" y2="476.00" stroke="#3c3c3c" stroke-width="1.3"/>
<text x="315.06" y="489.00" font-family="Liberation Serif" font-size="13.2" font-weight="bold" text-anchor="middle" fill="#000" textLength="25.08" lengthAdjust="spacingAndGlyphs">2000</text>
<line x1="99.28" y1="472.00" x2="99.28" y2="474.20" stroke="#3c3c3c" stroke-width="1.3"/>
<line x1="147.23" y1="472.00" x2="147.23" y2="474.20" stroke="#3c3c3c" stroke-width="1.3"/>
<line x1="195.18" y1="472.00" x2="195.18" y2="474.20" stroke="#3c3c3c" stroke-width="1.3"/>
<line x1="243.13" y1="472.00" x2="243.13" y2="474.20" stroke="#3c3c3c" stroke-width="1.3"/>
<line x1="291.08" y1="472.00" x2="291.08" y2="474.20" stroke="#3c3c3c" stroke-width="1.3"/>
<line x1="59.20" y1="472.00" x2="63.20" y2="472.00" stroke="#3c3c3c" stroke-width="1.3"/>
<text x="56.10" y="476.30" font-family="Liberation Serif" font-size="13.2" font-weight="bold" text-anchor="end" fill="#000" textLength="22.99" lengthAdjust="spacingAndGlyphs">-400</text>
<line x1="59.20" y1="438.17" x2="63.20" y2="438.17" stroke="#3c3c3c" stroke-width="1.3"/>
<text x="56.10" y="442.47" font-family="Liberation Serif" font-size="13.2" font-weight="bold" text-anchor="end" fill="#000" textLength="6.27" lengthAdjust="spacingAndGlyphs">0</text>
<line x1="59.20" y1="404.34" x2="63.20" y2="404.34" stroke="#3c3c3c" stroke-width="1.3"/>
<text x="56.10" y="408.64" font-family="Liberation Serif" font-size="13.2" font-weight="bold" text-anchor="end" fill="#000" textLength="18.81" lengthAdjust="spacingAndGlyphs">400</text>
<line x1="59.20" y1="370.50" x2="63.20" y2="370.50" stroke="#3c3c3c" stroke-width="1.3"/>
<text x="56.10" y="374.80" font-family="Liberation Serif" font-size="13.2" font-weight="bold" text-anchor="end" fill="#000" textLength="18.81" lengthAdjust="spacingAndGlyphs">800</text>
<line x1="59.20" y1="336.67" x2="63.20" y2="336.67" stroke="#3c3c3c" stroke-width="1.3"/>
<text x="56.10" y="340.97" font-family="Liberation Serif" font-size="13.2" font-weight="bold" text-anchor="end" fill="#000" textLength="25.08" lengthAdjust="spacingAndGlyphs">1200</text>
<line x1="59.20" y1="302.84" x2="63.20" y2="302.84" stroke="#3c3c3c" stroke-width="1.3"/>
<text x="56.10" y="307.14" font-family="Liberation Serif" font-size="13.2" font-weight="bold" text-anchor="end" fill="#000" textLength="25.08" lengthAdjust="spacingAndGlyphs">1600</text>
<line x1="59.20" y1="269.00" x2="63.20" y2="269.00" stroke="#3c3c3c" stroke-width="1.3"/>
<text x="56.10" y="273.30" font-family="Liberation Serif" font-size="13.2" font-weight="bold" text-anchor="end" fill="#000" textLength="25.08" lengthAdjust="spacingAndGlyphs">2000</text>
<line x1="61.00" y1="455.09" x2="63.20" y2="455.09" stroke="#3c3c3c" stroke-width="1.3"/>
<line x1="61.00" y1="421.25" x2="63.20" y2="421.25" stroke="#3c3c3c" stroke-width="1.3"/>
<line x1="61.00" y1="387.42" x2="63.20" y2="387.42" stroke="#3c3c3c" stroke-width="1.3"/>
<line x1="61.00" y1="353.59" x2="63.20" y2="353.59" stroke="#3c3c3c" stroke-width="1.3"/>
<line x1="61.00" y1="319.75" x2="63.20" y2="319.75" stroke="#3c3c3c" stroke-width="1.3"/>
<line x1="61.00" y1="285.92" x2="63.20" y2="285.92" stroke="#3c3c3c" stroke-width="1.3"/>
<text x="12.30" y="280.20" font-family="Liberation Serif" font-size="20" font-weight="bold" text-anchor="middle" fill="#000" >(c)</text>
<text x="0" y="0" font-family="Liberation Serif" font-size="18" font-weight="bold" text-anchor="middle" transform="translate(21.5,376) rotate(-90)">-Z<tspan font-size="12.5" dy="4">img</tspan><tspan dy="-4"> (Ω cm</tspan><tspan font-size="11.5" dy="-7">2</tspan><tspan dy="7">)</tspan></text>
<text x="189" y="507.5" font-family="Liberation Serif" font-size="18.3" font-weight="bold" text-anchor="middle">Z<tspan font-size="13" dy="3.5">re</tspan><tspan dy="-3.5"> (Ω cm</tspan><tspan font-size="11" dy="-7">2</tspan><tspan dy="7">)</tspan></text>
<rect x="238.3" y="274.2" width="4.8" height="4.8" fill="#000"/>
<text x="254.30" y="279.80" font-family="Liberation Serif" font-size="10.4" font-weight="bold" text-anchor="start" fill="#000" >Blank</text>
<path d="M240.7,292.4L243.7,287.2L237.7,287.2Z" fill="#0000ff"/>
<text x="254.30" y="292.40" font-family="Liberation Serif" font-size="10.4" font-weight="bold" text-anchor="start" fill="#0000ff" >PDE</text>
<line x1="229.10" y1="301.50" x2="252.20" y2="301.50" stroke="#ff0000" stroke-width="1.5"/>
<text x="254.30" y="304.60" font-family="Liberation Serif" font-size="10.4" font-weight="bold" text-anchor="start" fill="#000" >Fitted curves</text>
<text x="90.00" y="294.80" font-family="Liberation Serif" font-size="12.2" font-weight="bold" text-anchor="start" fill="#000" textLength="88" lengthAdjust="spacingAndGlyphs">Equivalent circuit</text>
<line x1="70.10" y1="316.30" x2="89.10" y2="316.30" stroke="#1a1a1a" stroke-width="1.2"/>
<path d="M89.6,316.3 L92.3,319.3 L98.0,313.3 L103.6,319.3 L109.1,313.3 L111.8,316.3" fill="none" stroke="#1a1a1a" stroke-width="1.2" stroke-linejoin="miter"/>
<line x1="111.70" y1="316.30" x2="233.50" y2="316.30" stroke="#1a1a1a" stroke-width="1.2"/>
<circle cx="131.1" cy="316.3" r="2.5" fill="#111"/>
<path d="M144.5,313.4 L148.2,316.3 L144.5,319.2 M150.2,313.4 L153.9,316.3 L150.2,319.2" fill="none" stroke="#1a1a1a" stroke-width="1.2"/>
<rect x="149" y="315" width="1" height="2.6" fill="#fff"/>
<line x1="131.10" y1="316.30" x2="131.10" y2="366.70" stroke="#1a1a1a" stroke-width="1.2"/>
<line x1="219.30" y1="316.30" x2="219.30" y2="366.70" stroke="#1a1a1a" stroke-width="1.2"/>
<line x1="131.10" y1="332.90" x2="139.30" y2="332.90" stroke="#1a1a1a" stroke-width="1.2"/>
<path d="M139.3,332.9 L142.0,335.5 L147.9,330.3 L153.5,335.5 L159.1,330.3 L161.8,332.9" fill="none" stroke="#1a1a1a" stroke-width="1.2" stroke-linejoin="miter"/>
<line x1="161.80" y1="332.90" x2="189.50" y2="332.90" stroke="#1a1a1a" stroke-width="1.2"/>
<circle cx="181" cy="332.9" r="2.4" fill="#111"/>
<path d="M189.5,332.9 L192.1,335.5 L197.7,330.3 L203.2,335.5 L208.6,330.3 L211.2,332.9" fill="none" stroke="#1a1a1a" stroke-width="1.2" stroke-linejoin="miter"/>
<line x1="211.20" y1="332.90" x2="219.40" y2="332.90" stroke="#1a1a1a" stroke-width="1.2"/>
<line x1="181.00" y1="332.90" x2="181.00" y2="350.00" stroke="#1a1a1a" stroke-width="1.2"/>
<line x1="181.00" y1="350.00" x2="197.50" y2="350.00" stroke="#1a1a1a" stroke-width="1.2"/>
<line x1="202.70" y1="350.00" x2="219.40" y2="350.00" stroke="#1a1a1a" stroke-width="1.2"/>
<line x1="197.50" y1="347.00" x2="197.50" y2="353.00" stroke="#1a1a1a" stroke-width="1.3"/>
<line x1="202.70" y1="347.00" x2="202.70" y2="353.00" stroke="#1a1a1a" stroke-width="1.3"/>
<line x1="131.10" y1="366.20" x2="142.20" y2="366.20" stroke="#1a1a1a" stroke-width="1.2"/>
<line x1="158.40" y1="366.20" x2="178.00" y2="366.20" stroke="#1a1a1a" stroke-width="1.2"/>
<path d="M178.0,366.2 L180.7,368.9 L186.6,363.5 L192.2,368.9 L197.9,363.5 L200.6,366.2" fill="none" stroke="#1a1a1a" stroke-width="1.2" stroke-linejoin="miter"/>
<line x1="200.60" y1="366.20" x2="219.40" y2="366.20" stroke="#1a1a1a" stroke-width="1.2"/>
<rect x="142.4" y="364" width="16" height="4.4" rx="2.2" fill="none" stroke="#1a1a1a" stroke-width="1.2"/>
<path d="M146.4,364.3 A1.3,1.9 0 0 0 146.4,367.9" fill="none" stroke="#1a1a1a" stroke-width="0.9"/>
<path d="M149.0,364.3 A1.3,1.9 0 0 0 149.0,367.9" fill="none" stroke="#1a1a1a" stroke-width="0.9"/>
<path d="M151.6,364.3 A1.3,1.9 0 0 0 151.6,367.9" fill="none" stroke="#1a1a1a" stroke-width="0.9"/>
<path d="M154.2,364.3 A1.3,1.9 0 0 0 154.2,367.9" fill="none" stroke="#1a1a1a" stroke-width="0.9"/>
<path d="M156.8,364.3 A1.3,1.9 0 0 0 156.8,367.9" fill="none" stroke="#1a1a1a" stroke-width="0.9"/>
<text x="100.70" y="311.70" font-family="Liberation Sans" font-size="7.6" font-weight="normal" text-anchor="middle" fill="#1a1212" >Rs</text>
<text x="150.20" y="311.70" font-family="Liberation Sans" font-size="7.6" font-weight="normal" text-anchor="middle" fill="#1a1212" >CPE</text>
<text x="151.30" y="328.10" font-family="Liberation Sans" font-size="7.6" font-weight="normal" text-anchor="middle" fill="#1a1212" >Rf</text>
<text x="200.20" y="328.10" font-family="Liberation Sans" font-size="7.6" font-weight="normal" text-anchor="middle" fill="#1a1212" >Rct</text>
<text x="200.20" y="345.00" font-family="Liberation Sans" font-size="7.6" font-weight="normal" text-anchor="middle" fill="#1a1212" >C</text>
<text x="150.90" y="361.00" font-family="Liberation Sans" font-size="7.6" font-weight="normal" text-anchor="middle" fill="#1a1212" >L1</text>
<text x="189.40" y="361.00" font-family="Liberation Sans" font-size="7.6" font-weight="normal" text-anchor="middle" fill="#1a1212" >RL</text>
<polyline points="78.4,438.0 78.6,437.5 78.9,436.8 79.2,435.9 79.5,435.0 79.9,434.0 80.3,433.2 80.7,432.4 81.0,431.7 81.5,431.0 81.9,430.3 82.5,429.5 83.2,428.6 84.0,427.5 85.0,426.2 86.1,424.7 87.2,423.3 88.3,422.0 89.3,420.9 90.3,420.1 91.2,419.5 92.1,419.0 93.0,418.6 93.8,418.2 94.7,417.8 95.6,417.3 96.5,416.9 97.5,416.5 98.5,416.1 99.5,415.7 100.4,415.3 101.4,415.0 102.4,414.7 103.3,414.4 104.3,414.2 105.3,413.9 106.3,413.7 107.4,413.5 108.5,413.3 109.6,413.1 110.7,413.0 111.8,412.8 112.8,412.7 113.7,412.6 114.6,412.5 115.4,412.4 116.3,412.4 117.1,412.3 118.0,412.3 118.9,412.3 119.8,412.2 120.8,412.2 121.8,412.2 122.8,412.2 123.7,412.2 124.6,412.2 125.6,412.3 126.4,412.4 127.3,412.5 128.2,412.6 129.1,412.7 130.0,412.9 130.9,413.0 131.8,413.2 132.7,413.4 133.6,413.6 134.6,413.8 135.6,414.1 136.6,414.4 137.6,414.7 138.7,415.0 139.7,415.4 140.8,415.8 141.8,416.2 142.9,416.6 144.0,417.1 145.0,417.5 146.1,418.0 147.0,418.5 148.0,418.9 148.9,419.4 149.8,419.9 150.6,420.3 151.5,420.8 152.4,421.3 153.3,421.8 154.2,422.4 155.2,422.9 156.1,423.5 157.0,424.1 157.9,424.6 158.7,425.2 159.5,425.9 160.3,426.5 161.1,427.1 161.9,427.8 162.6,428.4 163.2,429.1 163.8,429.8 164.4,430.5 164.9,431.2 165.4,431.9 165.8,432.6 166.2,433.2 166.5,433.9 166.8,434.5 167.0,435.1 167.2,435.7 167.4,436.3 167.5,437.0 167.6,437.6 167.6,438.2 167.6,438.8 167.5,439.4 167.4,440.1 167.2,440.7 167.0,441.4 166.7,442.1 166.4,442.7 166.0,443.4 165.6,444.0 165.2,444.5 164.7,445.0 164.2,445.5 163.6,445.9 163.0,446.3 162.4,446.7 161.7,447.1 161.0,447.5 160.2,447.8 159.4,448.2 158.6,448.5 157.8,448.8 157.0,449.0 156.2,449.2 155.4,449.4 154.5,449.6 153.7,449.8 152.9,449.9 152.1,450.0 151.2,450.0 150.4,450.1 149.6,450.1 148.7,450.1 147.9,450.0 147.1,449.9 146.3,449.8 145.6,449.6 144.8,449.4 144.1,449.3 143.4,449.1 142.7,448.9 142.0,448.7 141.3,448.5 140.6,448.2 139.9,448.0 139.2,447.7 138.5,447.4 137.8,447.1 137.1,446.7 136.5,446.4 136.0,446.1 135.6,445.9" fill="none" stroke="#000" stroke-width="5.8" stroke-linejoin="round" stroke-linecap="round" />
<rect x="77.8" y="435.1" width="3.6" height="3.6" fill="#000"/>
<rect x="77.5" y="433.7" width="3.6" height="3.6" fill="#000"/>
<rect x="77.5" y="431.3" width="3.6" height="3.6" fill="#000"/>
<rect x="80.1" y="430.3" width="3.6" height="3.6" fill="#000"/>
<rect x="79.9" y="427.4" width="3.6" height="3.6" fill="#000"/>
<rect x="81.5" y="426.0" width="3.6" height="3.6" fill="#000"/>
<rect x="83.0" y="422.2" width="3.6" height="3.6" fill="#000"/>
<rect x="85.3" y="421.9" width="3.6" height="3.6" fill="#000"/>
<rect x="86.8" y="418.6" width="3.6" height="3.6" fill="#000"/>
<rect x="89.8" y="418.6" width="3.6" height="3.6" fill="#000"/>
<rect x="92.2" y="416.2" width="3.6" height="3.6" fill="#000"/>
<rect x="93.4" y="415.0" width="3.6" height="3.6" fill="#000"/>
<rect x="96.0" y="414.2" width="3.6" height="3.6" fill="#000"/>
<rect x="97.8" y="414.4" width="3.6" height="3.6" fill="#000"/>
<rect x="101.7" y="413.1" width="3.6" height="3.6" fill="#000"/>
<rect x="102.0" y="412.6" width="3.6" height="3.6" fill="#000"/>
<rect x="105.3" y="412.9" width="3.6" height="3.6" fill="#000"/>
<rect x="108.4" y="412.1" width="3.6" height="3.6" fill="#000"/>
<rect x="110.9" y="411.1" width="3.6" height="3.6" fill="#000"/>
<rect x="113.8" y="411.5" width="3.6" height="3.6" fill="#000"/>
<rect x="114.8" y="409.7" width="3.6" height="3.6" fill="#000"/>
<rect x="117.5" y="410.5" width="3.6" height="3.6" fill="#000"/>
<rect x="119.4" y="410.0" width="3.6" height="3.6" fill="#000"/>
<rect x="123.0" y="409.3" width="3.6" height="3.6" fill="#000"/>
<rect x="126.1" y="411.0" width="3.6" height="3.6" fill="#000"/>
<rect x="127.4" y="410.5" width="3.6" height="3.6" fill="#000"/>
<rect x="129.9" y="411.0" width="3.6" height="3.6" fill="#000"/>
<rect x="133.3" y="412.0" width="3.6" height="3.6" fill="#000"/>
<rect x="135.2" y="411.8" width="3.6" height="3.6" fill="#000"/>
<rect x="138.5" y="413.0" width="3.6" height="3.6" fill="#000"/>
<rect x="139.4" y="413.3" width="3.6" height="3.6" fill="#000"/>
<rect x="143.3" y="415.2" width="3.6" height="3.6" fill="#000"/>
<rect x="145.4" y="417.3" width="3.6" height="3.6" fill="#000"/>
<rect x="147.8" y="418.1" width="3.6" height="3.6" fill="#000"/>
<rect x="149.9" y="419.6" width="3.6" height="3.6" fill="#000"/>
<rect x="151.8" y="418.9" width="3.6" height="3.6" fill="#000"/>
<rect x="153.3" y="421.2" width="3.6" height="3.6" fill="#000"/>
<rect x="156.5" y="423.0" width="3.6" height="3.6" fill="#000"/>
<rect x="157.9" y="424.4" width="3.6" height="3.6" fill="#000"/>
<rect x="159.0" y="426.4" width="3.6" height="3.6" fill="#000"/>
<rect x="161.5" y="426.8" width="3.6" height="3.6" fill="#000"/>
<rect x="162.7" y="430.1" width="3.6" height="3.6" fill="#000"/>
<rect x="164.2" y="430.3" width="3.6" height="3.6" fill="#000"/>
<rect x="164.4" y="433.8" width="3.6" height="3.6" fill="#000"/>
<rect x="165.9" y="436.7" width="3.6" height="3.6" fill="#000"/>
<rect x="164.8" y="438.0" width="3.6" height="3.6" fill="#000"/>
<rect x="165.3" y="439.5" width="3.6" height="3.6" fill="#000"/>
<rect x="162.5" y="442.8" width="3.6" height="3.6" fill="#000"/>
<rect x="161.0" y="443.4" width="3.6" height="3.6" fill="#000"/>
<rect x="158.8" y="445.9" width="3.6" height="3.6" fill="#000"/>
<rect x="157.1" y="445.5" width="3.6" height="3.6" fill="#000"/>
<rect x="153.7" y="448.2" width="3.6" height="3.6" fill="#000"/>
<rect x="152.6" y="447.1" width="3.6" height="3.6" fill="#000"/>
<rect x="150.7" y="447.1" width="3.6" height="3.6" fill="#000"/>
<rect x="147.0" y="449.1" width="3.6" height="3.6" fill="#000"/>
<rect x="145.3" y="447.5" width="3.6" height="3.6" fill="#000"/>
<rect x="143.3" y="447.7" width="3.6" height="3.6" fill="#000"/>
<rect x="140.8" y="447.8" width="3.6" height="3.6" fill="#000"/>
<rect x="137.4" y="446.4" width="3.6" height="3.6" fill="#000"/>
<rect x="135.4" y="446.0" width="3.6" height="3.6" fill="#000"/>
<path d="M76.1,441.4L79.3,435.9L73.0,435.9Z" fill="#0000ff"/>
<path d="M75.5,438.5L78.7,433.0L72.4,433.0Z" fill="#0000ff"/>
<path d="M77.0,436.6L80.2,431.1L73.8,431.1Z" fill="#0000ff"/>
<path d="M77.7,434.7L80.9,429.2L74.6,429.2Z" fill="#0000ff"/>
<path d="M77.9,431.4L81.0,425.9L74.7,425.9Z" fill="#0000ff"/>
<path d="M78.4,429.3L81.5,423.8L75.2,423.8Z" fill="#0000ff"/>
<path d="M80.7,427.4L83.8,421.9L77.5,421.9Z" fill="#0000ff"/>
<path d="M81.6,426.3L84.7,420.8L78.4,420.8Z" fill="#0000ff"/>
<path d="M81.9,423.2L85.1,417.7L78.7,417.7Z" fill="#0000ff"/>
<path d="M83.1,421.3L86.2,415.8L79.9,415.8Z" fill="#0000ff"/>
<path d="M84.8,419.8L88.0,414.3L81.7,414.3Z" fill="#0000ff"/>
<path d="M86.4,417.6L89.6,412.1L83.2,412.1Z" fill="#0000ff"/>
<path d="M88.0,416.3L91.1,410.8L84.8,410.8Z" fill="#0000ff"/>
<path d="M89.5,413.7L92.6,408.2L86.3,408.2Z" fill="#0000ff"/>
<path d="M90.9,412.4L94.0,406.9L87.7,406.9Z" fill="#0000ff"/>
<path d="M92.1,410.5L95.3,405.0L88.9,405.0Z" fill="#0000ff"/>
<path d="M93.9,408.6L97.1,403.1L90.8,403.1Z" fill="#0000ff"/>
<path d="M95.9,407.5L99.1,402.0L92.8,402.0Z" fill="#0000ff"/>
<path d="M98.1,407.1L101.3,401.6L94.9,401.6Z" fill="#0000ff"/>
<path d="M100.4,405.6L103.5,400.1L97.2,400.1Z" fill="#0000ff"/>
<path d="M102.1,404.1L105.2,398.6L98.9,398.6Z" fill="#0000ff"/>
<path d="M104.0,402.8L107.2,397.3L100.9,397.3Z" fill="#0000ff"/>
<path d="M106.1,402.9L109.3,397.4L103.0,397.4Z" fill="#0000ff"/>
<path d="M107.7,401.1L110.9,395.6L104.5,395.6Z" fill="#0000ff"/>
<path d="M110.3,400.5L113.5,395.0L107.2,395.0Z" fill="#0000ff"/>
<path d="M111.9,398.6L115.0,393.1L108.7,393.1Z" fill="#0000ff"/>
<path d="M114.5,397.7L117.6,392.2L111.3,392.2Z" fill="#0000ff"/>
<path d="M116.2,395.3L119.3,389.8L113.0,389.8Z" fill="#0000ff"/>
<path d="M119.3,396.5L122.5,391.0L116.2,391.0Z" fill="#0000ff"/>
<path d="M120.9,396.2L124.0,390.7L117.7,390.7Z" fill="#0000ff"/>
<path d="M122.6,393.6L125.8,388.1L119.4,388.1Z" fill="#0000ff"/>
<path d="M124.7,393.2L127.8,387.7L121.5,387.7Z" fill="#0000ff"/>
<path d="M127.4,392.3L130.5,386.8L124.2,386.8Z" fill="#0000ff"/>
<path d="M130.3,393.8L133.5,388.3L127.2,388.3Z" fill="#0000ff"/>
<path d="M132.6,395.5L135.8,390.0L129.5,390.0Z" fill="#0000ff"/>
<path d="M134.2,393.7L137.4,388.2L131.1,388.2Z" fill="#0000ff"/>
<path d="M137.0,394.9L140.1,389.4L133.8,389.4Z" fill="#0000ff"/>
<path d="M139.4,393.2L142.6,387.7L136.2,387.7Z" fill="#0000ff"/>
<path d="M141.4,394.8L144.6,389.3L138.3,389.3Z" fill="#0000ff"/>
<path d="M143.8,394.4L147.0,388.9L140.7,388.9Z" fill="#0000ff"/>
<path d="M146.5,393.9L149.6,388.4L143.3,388.4Z" fill="#0000ff"/>
<path d="M148.8,393.2L151.9,387.7L145.6,387.7Z" fill="#0000ff"/>
<path d="M150.5,393.4L153.7,387.9L147.4,387.9Z" fill="#0000ff"/>
<path d="M152.6,391.8L155.8,386.3L149.5,386.3Z" fill="#0000ff"/>
<path d="M155.2,391.7L158.4,386.2L152.0,386.2Z" fill="#0000ff"/>
<path d="M157.3,392.2L160.5,386.7L154.1,386.7Z" fill="#0000ff"/>
<path d="M160.2,394.2L163.4,388.7L157.1,388.7Z" fill="#0000ff"/>
<path d="M162.5,391.7L165.7,386.2L159.4,386.2Z" fill="#0000ff"/>
<path d="M164.2,393.2L167.3,387.7L161.0,387.7Z" fill="#0000ff"/>
<path d="M166.3,392.3L169.5,386.8L163.1,386.8Z" fill="#0000ff"/>
<path d="M168.7,392.9L171.8,387.4L165.5,387.4Z" fill="#0000ff"/>
<path d="M170.8,395.0L174.0,389.5L167.7,389.5Z" fill="#0000ff"/>
<path d="M173.4,393.7L176.6,388.2L170.3,388.2Z" fill="#0000ff"/>
<path d="M175.1,395.7L178.2,390.2L171.9,390.2Z" fill="#0000ff"/>
<path d="M177.5,395.0L180.6,389.5L174.3,389.5Z" fill="#0000ff"/>
<path d="M179.7,396.4L182.9,390.9L176.6,390.9Z" fill="#0000ff"/>
<path d="M182.2,395.4L185.3,389.9L179.0,389.9Z" fill="#0000ff"/>
<path d="M184.8,394.8L188.0,389.3L181.7,389.3Z" fill="#0000ff"/>
<path d="M187.0,396.8L190.2,391.3L183.9,391.3Z" fill="#0000ff"/>
<path d="M189.7,395.9L192.9,390.4L186.6,390.4Z" fill="#0000ff"/>
<path d="M191.2,397.0L194.4,391.5L188.1,391.5Z" fill="#0000ff"/>
<path d="M193.2,398.3L196.4,392.8L190.0,392.8Z" fill="#0000ff"/>
<path d="M196.1,398.4L199.3,392.9L192.9,392.9Z" fill="#0000ff"/>
<path d="M198.0,398.4L201.1,392.9L194.8,392.9Z" fill="#0000ff"/>
<path d="M200.7,399.6L203.9,394.1L197.6,394.1Z" fill="#0000ff"/>
<path d="M201.6,401.6L204.7,396.1L198.4,396.1Z" fill="#0000ff"/>
<path d="M204.3,400.9L207.5,395.4L201.1,395.4Z" fill="#0000ff"/>
<path d="M207.4,401.8L210.6,396.3L204.2,396.3Z" fill="#0000ff"/>
<path d="M209.0,402.5L212.2,397.0L205.8,397.0Z" fill="#0000ff"/>
<path d="M210.5,404.2L213.7,398.7L207.3,398.7Z" fill="#0000ff"/>
<path d="M213.6,403.9L216.7,398.4L210.4,398.4Z" fill="#0000ff"/>
<path d="M215.0,406.4L218.2,400.9L211.9,400.9Z" fill="#0000ff"/>
<path d="M216.9,406.9L220.0,401.4L213.7,401.4Z" fill="#0000ff"/>
<path d="M219.2,407.5L222.4,402.0L216.1,402.0Z" fill="#0000ff"/>
<path d="M222.8,406.7L226.0,401.2L219.7,401.2Z" fill="#0000ff"/>
<path d="M224.1,408.8L227.3,403.3L221.0,403.3Z" fill="#0000ff"/>
<path d="M226.3,410.6L229.5,405.1L223.2,405.1Z" fill="#0000ff"/>
<path d="M228.6,411.5L231.7,406.0L225.4,406.0Z" fill="#0000ff"/>
<path d="M230.4,412.7L233.6,407.2L227.3,407.2Z" fill="#0000ff"/>
<path d="M232.2,414.0L235.3,408.5L229.0,408.5Z" fill="#0000ff"/>
<path d="M233.8,415.4L237.0,409.9L230.7,409.9Z" fill="#0000ff"/>
<path d="M236.3,416.3L239.5,410.8L233.2,410.8Z" fill="#0000ff"/>
<path d="M236.8,419.0L240.0,413.5L233.7,413.5Z" fill="#0000ff"/>
<path d="M238.8,420.7L242.0,415.2L235.6,415.2Z" fill="#0000ff"/>
<path d="M240.4,422.2L243.5,416.7L237.2,416.7Z" fill="#0000ff"/>
<path d="M242.5,423.2L245.7,417.7L239.4,417.7Z" fill="#0000ff"/>
<path d="M244.1,425.7L247.3,420.2L241.0,420.2Z" fill="#0000ff"/>
<path d="M246.1,427.6L249.2,422.1L242.9,422.1Z" fill="#0000ff"/>
<path d="M246.8,429.1L250.0,423.6L243.7,423.6Z" fill="#0000ff"/>
<path d="M248.1,431.9L251.2,426.4L244.9,426.4Z" fill="#0000ff"/>
<path d="M248.5,434.0L251.7,428.5L245.4,428.5Z" fill="#0000ff"/>
<path d="M250.8,436.1L254.0,430.6L247.7,430.6Z" fill="#0000ff"/>
<path d="M250.6,439.4L253.7,433.9L247.4,433.9Z" fill="#0000ff"/>
<path d="M249.5,441.3L252.7,435.8L246.4,435.8Z" fill="#0000ff"/>
<path d="M249.4,444.4L252.6,438.9L246.3,438.9Z" fill="#0000ff"/>
<path d="M249.5,446.3L252.6,440.8L246.3,440.8Z" fill="#0000ff"/>
<path d="M249.2,449.4L252.3,443.9L246.0,443.9Z" fill="#0000ff"/>
<path d="M246.5,451.3L249.6,445.8L243.3,445.8Z" fill="#0000ff"/>
<path d="M245.6,453.2L248.8,447.7L242.4,447.7Z" fill="#0000ff"/>
<path d="M244.1,455.0L247.3,449.5L241.0,449.5Z" fill="#0000ff"/>
<path d="M241.8,457.2L245.0,451.7L238.6,451.7Z" fill="#0000ff"/>
<path d="M239.7,457.2L242.9,451.7L236.6,451.7Z" fill="#0000ff"/>
<path d="M237.3,458.8L240.4,453.3L234.1,453.3Z" fill="#0000ff"/>
<path d="M236.1,461.2L239.3,455.7L232.9,455.7Z" fill="#0000ff"/>
<path d="M235.0,463.8L238.1,458.3L231.8,458.3Z" fill="#0000ff"/>
<path d="M232.4,464.0L235.6,458.5L229.3,458.5Z" fill="#0000ff"/>
<path d="M229.6,465.2L232.8,459.7L226.4,459.7Z" fill="#0000ff"/>
<path d="M226.9,465.1L230.1,459.6L223.7,459.6Z" fill="#0000ff"/>
<path d="M225.1,467.1L228.3,461.6L222.0,461.6Z" fill="#0000ff"/>
<path d="M222.8,466.5L226.0,461.0L219.7,461.0Z" fill="#0000ff"/>
<path d="M220.1,467.4L223.3,461.9L216.9,461.9Z" fill="#0000ff"/>
<path d="M217.8,467.3L221.0,461.8L214.7,461.8Z" fill="#0000ff"/>
<path d="M215.9,467.5L219.1,462.0L212.7,462.0Z" fill="#0000ff"/>
<path d="M212.9,468.0L216.1,462.5L209.8,462.5Z" fill="#0000ff"/>
<path d="M210.7,469.0L213.9,463.5L207.6,463.5Z" fill="#0000ff"/>
<path d="M208.4,468.1L211.6,462.6L205.3,462.6Z" fill="#0000ff"/>
<path d="M205.5,469.3L208.7,463.8L202.4,463.8Z" fill="#0000ff"/>
<path d="M204.1,466.9L207.3,461.4L201.0,461.4Z" fill="#0000ff"/>
<path d="M200.9,467.4L204.0,461.9L197.7,461.9Z" fill="#0000ff"/>
<path d="M199.3,466.3L202.5,460.8L196.2,460.8Z" fill="#0000ff"/>
<path d="M197.2,464.2L200.4,458.7L194.1,458.7Z" fill="#0000ff"/>
<path d="M195.0,463.9L198.2,458.4L191.9,458.4Z" fill="#0000ff"/>
<path d="M193.0,462.7L196.1,457.2L189.8,457.2Z" fill="#0000ff"/>
<polyline points="79.2,438.3 79.4,437.8 79.6,437.0 79.9,436.2 80.3,435.2 80.6,434.3 81.0,433.5 81.4,432.8 81.7,432.1 82.1,431.5 82.6,430.8 83.1,430.0 83.8,429.1 84.6,428.0 85.6,426.6 86.7,425.2 87.8,423.8 88.9,422.5 89.9,421.5 90.8,420.7 91.7,420.1 92.5,419.7 93.3,419.3 94.1,418.9 95.0,418.5 95.9,418.1 96.9,417.6 97.8,417.2 98.8,416.8 99.7,416.4 100.7,416.1 101.7,415.8 102.6,415.5 103.6,415.2 104.5,415.0 105.5,414.7 106.5,414.5 107.5,414.3 108.6,414.1 109.7,413.9 110.8,413.8 111.9,413.6 112.9,413.5 113.8,413.4 114.7,413.3 115.5,413.2 116.3,413.2 117.1,413.1 118.0,413.1 118.9,413.1 119.9,413.0 120.8,413.0 121.8,413.0 122.8,413.0 123.7,413.0 124.6,413.0 125.5,413.1 126.4,413.2 127.2,413.3 128.1,413.4 129.0,413.5 129.9,413.6 130.8,413.8 131.7,414.0 132.5,414.2 133.5,414.4 134.4,414.6 135.4,414.9 136.4,415.1 137.4,415.5 138.4,415.8 139.5,416.1 140.5,416.5 141.5,416.9 142.6,417.3 143.6,417.8 144.7,418.3 145.7,418.7 146.7,419.2 147.6,419.7 148.5,420.1 149.4,420.6 150.3,421.0 151.1,421.5 152.0,422.0 152.9,422.5 153.8,423.0 154.7,423.6 155.7,424.2 156.5,424.7 157.4,425.3 158.2,425.9 159.0,426.5 159.8,427.1 160.6,427.7 161.3,428.4 162.0,429.0 162.6,429.7 163.2,430.3 163.7,431.0 164.2,431.7 164.7,432.4 165.1,433.0 165.5,433.6 165.8,434.2 166.0,434.8 166.3,435.4 166.5,435.9 166.6,436.5 166.7,437.1 166.8,437.6 166.8,438.2 166.8,438.8 166.7,439.3 166.6,439.9 166.4,440.5 166.2,441.1 166.0,441.8 165.7,442.4 165.4,443.0 165.0,443.5 164.6,444.0 164.2,444.4 163.7,444.9 163.2,445.2 162.6,445.6 162.0,446.0 161.3,446.4 160.6,446.7 159.9,447.1 159.1,447.4 158.3,447.7 157.5,448.0 156.7,448.2 156.0,448.5 155.2,448.7 154.4,448.8 153.6,449.0 152.8,449.1 152.0,449.2 151.2,449.2 150.4,449.3 149.6,449.3 148.8,449.3 148.0,449.2 147.2,449.1 146.5,449.0 145.8,448.8 145.0,448.7 144.3,448.5 143.6,448.3 142.9,448.1 142.2,447.9 141.5,447.7 140.8,447.5 140.1,447.3 139.5,447.0 138.8,446.7 138.2,446.4 137.5,446.0 136.9,445.7 136.4,445.4 136.0,445.2" fill="none" stroke="#ff0000" stroke-width="1.6" stroke-linejoin="round" stroke-linecap="round" />
<polyline points="78.0,437.0 78.5,435.0 79.3,432.2 80.2,428.9 81.1,425.5 82.1,422.4 83.0,420.0 83.8,418.3 84.7,417.0 85.5,416.0 86.3,415.2 87.2,414.4 88.0,413.5 88.8,412.5 89.6,411.6 90.4,410.7 91.2,409.8 92.1,408.9 93.0,408.0 94.1,407.1 95.2,406.3 96.4,405.4 97.6,404.6 98.8,403.8 100.0,403.0 101.2,402.3 102.3,401.6 103.4,400.9 104.6,400.3 105.8,399.7 107.0,399.0 108.3,398.3 109.6,397.6 110.9,396.9 112.3,396.3 113.7,395.6 115.0,395.0 116.3,394.4 117.6,393.9 118.9,393.4 120.2,392.9 121.6,392.4 123.0,392.0 124.6,391.6 126.2,391.2 127.9,390.9 129.6,390.6 131.3,390.3 133.0,390.0 134.7,389.8 136.3,389.6 138.0,389.4 139.7,389.3 141.3,389.1 143.0,389.0 144.7,388.9 146.3,388.7 148.0,388.6 149.7,388.5 151.3,388.5 153.0,388.4 154.7,388.3 156.4,388.3 158.1,388.3 159.7,388.3 161.4,388.3 163.0,388.4 164.6,388.5 166.1,388.7 167.6,389.0 169.1,389.2 170.6,389.5 172.0,389.8 173.4,390.1 174.7,390.4 176.0,390.7 177.3,391.0 178.6,391.4 180.0,391.7 181.4,392.0 182.9,392.4 184.4,392.7 186.0,393.1 187.5,393.4 189.0,393.8 190.5,394.2 192.0,394.5 193.4,394.9 194.9,395.2 196.4,395.7 197.9,396.1 199.4,396.6 200.9,397.1 202.4,397.7 204.0,398.3 205.5,398.9 207.0,399.5 208.5,400.1 210.0,400.7 211.6,401.4 213.1,402.0 214.5,402.6 215.9,403.3 217.2,404.0 218.4,404.6 219.6,405.3 220.7,406.0 221.8,406.7 223.0,407.4 224.2,408.2 225.4,409.0 226.7,409.8 227.9,410.7 229.1,411.5 230.2,412.3 231.3,413.0 232.3,413.7 233.2,414.4 234.2,415.1 235.1,415.8 236.0,416.5 236.9,417.3 237.8,418.0 238.6,418.8 239.5,419.6 240.2,420.5 241.0,421.3 241.7,422.1 242.4,423.0 243.1,423.9 243.7,424.7 244.3,425.6 244.8,426.5 245.3,427.4 245.8,428.3 246.2,429.3 246.6,430.2 247.0,431.1 247.3,432.0 247.5,432.8 247.7,433.6 247.9,434.3 247.9,435.0 248.0,435.8 248.0,436.5 248.0,437.2 247.9,438.0 247.8,438.7 247.7,439.5 247.5,440.2 247.3,441.0 247.1,441.8 246.8,442.6 246.5,443.4 246.1,444.2 245.8,445.0 245.4,445.8 245.0,446.5 244.6,447.3 244.2,448.0 243.8,448.7 243.3,449.3 242.8,450.0 242.2,450.7 241.6,451.3 241.0,452.0 240.3,452.6 239.5,453.2 238.8,453.8 238.0,454.4 237.3,455.0 236.5,455.5 235.6,456.1 234.7,456.6 233.8,457.1 232.8,457.6 231.7,458.1 230.6,458.5 229.4,459.0 228.2,459.4 227.0,459.8 225.8,460.2 224.5,460.5 223.2,460.8 222.0,461.1 220.7,461.4 219.5,461.6 218.4,461.8 217.2,462.0 216.2,462.1 215.1,462.2 214.0,462.3 213.0,462.4 212.0,462.5 211.0,462.5 210.0,462.6 209.0,462.6 208.0,462.6 206.9,462.5 205.7,462.4 204.5,462.2 203.3,462.0 202.0,461.8 200.7,461.5 199.5,461.2 198.2,460.8 196.9,460.4 195.6,460.0 194.4,459.5 193.3,459.2 192.6,458.9" fill="none" stroke="#ff0000" stroke-width="1.6" stroke-linejoin="round" stroke-linecap="round" />
<rect x="392.40" y="269.00" width="252.60" height="203.00" fill="none" stroke="#3c3c3c" stroke-width="1.3"/>
<line x1="392.40" y1="472.00" x2="392.40" y2="476.00" stroke="#3c3c3c" stroke-width="1.3"/>
<text x="392.7" y="490.0" font-family="Liberation Serif" font-size="13.2" font-weight="bold" text-anchor="middle" textLength="19.2" lengthAdjust="spacingAndGlyphs">10<tspan font-size="8.6" dy="-5.2">-1</tspan></text>
<line x1="405.07" y1="472.00" x2="405.07" y2="474.20" stroke="#3c3c3c" stroke-width="1.3"/>
<line x1="412.49" y1="472.00" x2="412.49" y2="474.20" stroke="#3c3c3c" stroke-width="1.3"/>
<line x1="417.75" y1="472.00" x2="417.75" y2="474.20" stroke="#3c3c3c" stroke-width="1.3"/>
<line x1="421.83" y1="472.00" x2="421.83" y2="474.20" stroke="#3c3c3c" stroke-width="1.3"/>
<line x1="425.16" y1="472.00" x2="425.16" y2="474.20" stroke="#3c3c3c" stroke-width="1.3"/>
<line x1="427.98" y1="472.00" x2="427.98" y2="474.20" stroke="#3c3c3c" stroke-width="1.3"/>
<line x1="430.42" y1="472.00" x2="430.42" y2="474.20" stroke="#3c3c3c" stroke-width="1.3"/>
<line x1="432.57" y1="472.00" x2="432.57" y2="474.20" stroke="#3c3c3c" stroke-width="1.3"/>
<line x1="434.50" y1="472.00" x2="434.50" y2="476.00" stroke="#3c3c3c" stroke-width="1.3"/>
<text x="434.8" y="490.0" font-family="Liberation Serif" font-size="13.2" font-weight="bold" text-anchor="middle" textLength="16.6" lengthAdjust="spacingAndGlyphs">10<tspan font-size="8.6" dy="-5.2">0</tspan></text>
<line x1="447.17" y1="472.00" x2="447.17" y2="474.20" stroke="#3c3c3c" stroke-width="1.3"/>
<line x1="454.59" y1="472.00" x2="454.59" y2="474.20" stroke="#3c3c3c" stroke-width="1.3"/>
<line x1="459.85" y1="472.00" x2="459.85" y2="474.20" stroke="#3c3c3c" stroke-width="1.3"/>
<line x1="463.93" y1="472.00" x2="463.93" y2="474.20" stroke="#3c3c3c" stroke-width="1.3"/>
<line x1="467.26" y1="472.00" x2="467.26" y2="474.20" stroke="#3c3c3c" stroke-width="1.3"/>
<line x1="470.08" y1="472.00" x2="470.08" y2="474.20" stroke="#3c3c3c" stroke-width="1.3"/>
<line x1="472.52" y1="472.00" x2="472.52" y2="474.20" stroke="#3c3c3c" stroke-width="1.3"/>
<line x1="474.67" y1="472.00" x2="474.67" y2="474.20" stroke="#3c3c3c" stroke-width="1.3"/>
<line x1="476.60" y1="472.00" x2="476.60" y2="476.00" stroke="#3c3c3c" stroke-width="1.3"/>
<text x="476.9" y="490.0" font-family="Liberation Serif" font-size="13.2" font-weight="bold" text-anchor="middle" textLength="16.6" lengthAdjust="spacingAndGlyphs">10<tspan font-size="8.6" dy="-5.2">1</tspan></text>
<line x1="489.27" y1="472.00" x2="489.27" y2="474.20" stroke="#3c3c3c" stroke-width="1.3"/>
<line x1="496.69" y1="472.00" x2="496.69" y2="474.20" stroke="#3c3c3c" stroke-width="1.3"/>
<line x1="501.95" y1="472.00" x2="501.95" y2="474.20" stroke="#3c3c3c" stroke-width="1.3"/>
<line x1="506.03" y1="472.00" x2="506.03" y2="474.20" stroke="#3c3c3c" stroke-width="1.3"/>
<line x1="509.36" y1="472.00" x2="509.36" y2="474.20" stroke="#3c3c3c" stroke-width="1.3"/>
<line x1="512.18" y1="472.00" x2="512.18" y2="474.20" stroke="#3c3c3c" stroke-width="1.3"/>
<line x1="514.62" y1="472.00" x2="514.62" y2="474.20" stroke="#3c3c3c" stroke-width="1.3"/>
<line x1="516.77" y1="472.00" x2="516.77" y2="474.20" stroke="#3c3c3c" stroke-width="1.3"/>
<line x1="518.70" y1="472.00" x2="518.70" y2="476.00" stroke="#3c3c3c" stroke-width="1.3"/>
<text x="519.0" y="490.0" font-family="Liberation Serif" font-size="13.2" font-weight="bold" text-anchor="middle" textLength="16.6" lengthAdjust="spacingAndGlyphs">10<tspan font-size="8.6" dy="-5.2">2</tspan></text>
<line x1="531.37" y1="472.00" x2="531.37" y2="474.20" stroke="#3c3c3c" stroke-width="1.3"/>
<line x1="538.79" y1="472.00" x2="538.79" y2="474.20" stroke="#3c3c3c" stroke-width="1.3"/>
<line x1="544.05" y1="472.00" x2="544.05" y2="474.20" stroke="#3c3c3c" stroke-width="1.3"/>
<line x1="548.13" y1="472.00" x2="548.13" y2="474.20" stroke="#3c3c3c" stroke-width="1.3"/>
<line x1="551.46" y1="472.00" x2="551.46" y2="474.20" stroke="#3c3c3c" stroke-width="1.3"/>
<line x1="554.28" y1="472.00" x2="554.28" y2="474.20" stroke="#3c3c3c" stroke-width="1.3"/>
<line x1="556.72" y1="472.00" x2="556.72" y2="474.20" stroke="#3c3c3c" stroke-width="1.3"/>
<line x1="558.87" y1="472.00" x2="558.87" y2="474.20" stroke="#3c3c3c" stroke-width="1.3"/>
<line x1="560.80" y1="472.00" x2="560.80" y2="476.00" stroke="#3c3c3c" stroke-width="1.3"/>
<text x="561.1" y="490.0" font-family="Liberation Serif" font-size="13.2" font-weight="bold" text-anchor="middle" textLength="16.6" lengthAdjust="spacingAndGlyphs">10<tspan font-size="8.6" dy="-5.2">3</tspan></text>
<line x1="573.47" y1="472.00" x2="573.47" y2="474.20" stroke="#3c3c3c" stroke-width="1.3"/>
<line x1="580.89" y1="472.00" x2="580.89" y2="474.20" stroke="#3c3c3c" stroke-width="1.3"/>
<line x1="586.15" y1="472.00" x2="586.15" y2="474.20" stroke="#3c3c3c" stroke-width="1.3"/>
<line x1="590.23" y1="472.00" x2="590.23" y2="474.20" stroke="#3c3c3c" stroke-width="1.3"/>
<line x1="593.56" y1="472.00" x2="593.56" y2="474.20" stroke="#3c3c3c" stroke-width="1.3"/>
<line x1="596.38" y1="472.00" x2="596.38" y2="474.20" stroke="#3c3c3c" stroke-width="1.3"/>
<line x1="598.82" y1="472.00" x2="598.82" y2="474.20" stroke="#3c3c3c" stroke-width="1.3"/>
<line x1="600.97" y1="472.00" x2="600.97" y2="474.20" stroke="#3c3c3c" stroke-width="1.3"/>
<line x1="602.90" y1="472.00" x2="602.90" y2="476.00" stroke="#3c3c3c" stroke-width="1.3"/>
<text x="603.2" y="490.0" font-family="Liberation Serif" font-size="13.2" font-weight="bold" text-anchor="middle" textLength="16.6" lengthAdjust="spacingAndGlyphs">10<tspan font-size="8.6" dy="-5.2">4</tspan></text>
<line x1="615.57" y1="472.00" x2="615.57" y2="474.20" stroke="#3c3c3c" stroke-width="1.3"/>
<line x1="622.99" y1="472.00" x2="622.99" y2="474.20" stroke="#3c3c3c" stroke-width="1.3"/>
<line x1="628.25" y1="472.00" x2="628.25" y2="474.20" stroke="#3c3c3c" stroke-width="1.3"/>
<line x1="632.33" y1="472.00" x2="632.33" y2="474.20" stroke="#3c3c3c" stroke-width="1.3"/>
<line x1="635.66" y1="472.00" x2="635.66" y2="474.20" stroke="#3c3c3c" stroke-width="1.3"/>
<line x1="638.48" y1="472.00" x2="638.48" y2="474.20" stroke="#3c3c3c" stroke-width="1.3"/>
<line x1="640.92" y1="472.00" x2="640.92" y2="474.20" stroke="#3c3c3c" stroke-width="1.3"/>
<line x1="643.07" y1="472.00" x2="643.07" y2="474.20" stroke="#3c3c3c" stroke-width="1.3"/>
<line x1="645.00" y1="472.00" x2="645.00" y2="476.00" stroke="#3c3c3c" stroke-width="1.3"/>
<text x="645.3" y="490.0" font-family="Liberation Serif" font-size="13.2" font-weight="bold" text-anchor="middle" textLength="16.6" lengthAdjust="spacingAndGlyphs">10<tspan font-size="8.6" dy="-5.2">5</tspan></text>
<line x1="388.40" y1="472.00" x2="392.40" y2="472.00" stroke="#3c3c3c" stroke-width="1.3"/>
<text x="385.8" y="476.0" font-family="Liberation Serif" font-size="13.2" font-weight="bold" text-anchor="end" textLength="16.6" lengthAdjust="spacingAndGlyphs">10<tspan font-size="8.6" dy="-5">1</tspan></text>
<line x1="390.20" y1="451.63" x2="392.40" y2="451.63" stroke="#3c3c3c" stroke-width="1.3"/>
<line x1="390.20" y1="439.71" x2="392.40" y2="439.71" stroke="#3c3c3c" stroke-width="1.3"/>
<line x1="390.20" y1="431.26" x2="392.40" y2="431.26" stroke="#3c3c3c" stroke-width="1.3"/>
<line x1="390.20" y1="424.70" x2="392.40" y2="424.70" stroke="#3c3c3c" stroke-width="1.3"/>
<line x1="390.20" y1="419.34" x2="392.40" y2="419.34" stroke="#3c3c3c" stroke-width="1.3"/>
<line x1="390.20" y1="414.81" x2="392.40" y2="414.81" stroke="#3c3c3c" stroke-width="1.3"/>
<line x1="390.20" y1="410.89" x2="392.40" y2="410.89" stroke="#3c3c3c" stroke-width="1.3"/>
<line x1="390.20" y1="407.43" x2="392.40" y2="407.43" stroke="#3c3c3c" stroke-width="1.3"/>
<line x1="388.40" y1="404.33" x2="392.40" y2="404.33" stroke="#3c3c3c" stroke-width="1.3"/>
<text x="385.8" y="408.3" font-family="Liberation Serif" font-size="13.2" font-weight="bold" text-anchor="end" textLength="16.6" lengthAdjust="spacingAndGlyphs">10<tspan font-size="8.6" dy="-5">2</tspan></text>
<line x1="390.20" y1="383.96" x2="392.40" y2="383.96" stroke="#3c3c3c" stroke-width="1.3"/>
<line x1="390.20" y1="372.04" x2="392.40" y2="372.04" stroke="#3c3c3c" stroke-width="1.3"/>
<line x1="390.20" y1="363.59" x2="392.40" y2="363.59" stroke="#3c3c3c" stroke-width="1.3"/>
<line x1="390.20" y1="357.03" x2="392.40" y2="357.03" stroke="#3c3c3c" stroke-width="1.3"/>
<line x1="390.20" y1="351.67" x2="392.40" y2="351.67" stroke="#3c3c3c" stroke-width="1.3"/>
<line x1="390.20" y1="347.14" x2="392.40" y2="347.14" stroke="#3c3c3c" stroke-width="1.3"/>
<line x1="390.20" y1="343.22" x2="392.40" y2="343.22" stroke="#3c3c3c" stroke-width="1.3"/>
<line x1="390.20" y1="339.76" x2="392.40" y2="339.76" stroke="#3c3c3c" stroke-width="1.3"/>
<line x1="388.40" y1="336.66" x2="392.40" y2="336.66" stroke="#3c3c3c" stroke-width="1.3"/>
<text x="385.8" y="340.7" font-family="Liberation Serif" font-size="13.2" font-weight="bold" text-anchor="end" textLength="16.6" lengthAdjust="spacingAndGlyphs">10<tspan font-size="8.6" dy="-5">3</tspan></text>
<line x1="390.20" y1="316.29" x2="392.40" y2="316.29" stroke="#3c3c3c" stroke-width="1.3"/>
<line x1="390.20" y1="304.37" x2="392.40" y2="304.37" stroke="#3c3c3c" stroke-width="1.3"/>
<line x1="390.20" y1="295.92" x2="392.40" y2="295.92" stroke="#3c3c3c" stroke-width="1.3"/>
<line x1="390.20" y1="289.36" x2="392.40" y2="289.36" stroke="#3c3c3c" stroke-width="1.3"/>
<line x1="390.20" y1="284.00" x2="392.40" y2="284.00" stroke="#3c3c3c" stroke-width="1.3"/>
<line x1="390.20" y1="279.47" x2="392.40" y2="279.47" stroke="#3c3c3c" stroke-width="1.3"/>
<line x1="390.20" y1="275.55" x2="392.40" y2="275.55" stroke="#3c3c3c" stroke-width="1.3"/>
<line x1="390.20" y1="272.09" x2="392.40" y2="272.09" stroke="#3c3c3c" stroke-width="1.3"/>
<line x1="388.40" y1="268.99" x2="392.40" y2="268.99" stroke="#3c3c3c" stroke-width="1.3"/>
<text x="385.8" y="273.0" font-family="Liberation Serif" font-size="13.2" font-weight="bold" text-anchor="end" textLength="16.6" lengthAdjust="spacingAndGlyphs">10<tspan font-size="8.6" dy="-5">4</tspan></text>
<line x1="641.00" y1="472.00" x2="645.00" y2="472.00" stroke="#3c3c3c" stroke-width="1.3"/>
<text x="649.30" y="475.70" font-family="Liberation Serif" font-size="13.2" font-weight="bold" text-anchor="start" fill="#000" textLength="16.72" lengthAdjust="spacingAndGlyphs">-20</text>
<line x1="641.00" y1="431.40" x2="645.00" y2="431.40" stroke="#3c3c3c" stroke-width="1.3"/>
<text x="649.30" y="435.10" font-family="Liberation Serif" font-size="13.2" font-weight="bold" text-anchor="start" fill="#000" textLength="6.27" lengthAdjust="spacingAndGlyphs">0</text>
<line x1="641.00" y1="390.80" x2="645.00" y2="390.80" stroke="#3c3c3c" stroke-width="1.3"/>
<text x="649.30" y="394.50" font-family="Liberation Serif" font-size="13.2" font-weight="bold" text-anchor="start" fill="#000" textLength="12.54" lengthAdjust="spacingAndGlyphs">20</text>
<line x1="641.00" y1="350.20" x2="645.00" y2="350.20" stroke="#3c3c3c" stroke-width="1.3"/>
<text x="649.30" y="353.90" font-family="Liberation Serif" font-size="13.2" font-weight="bold" text-anchor="start" fill="#000" textLength="12.54" lengthAdjust="spacingAndGlyphs">40</text>
<line x1="641.00" y1="309.60" x2="645.00" y2="309.60" stroke="#3c3c3c" stroke-width="1.3"/>
<text x="649.30" y="313.30" font-family="Liberation Serif" font-size="13.2" font-weight="bold" text-anchor="start" fill="#000" textLength="12.54" lengthAdjust="spacingAndGlyphs">60</text>
<line x1="641.00" y1="269.00" x2="645.00" y2="269.00" stroke="#3c3c3c" stroke-width="1.3"/>
<text x="649.30" y="272.70" font-family="Liberation Serif" font-size="13.2" font-weight="bold" text-anchor="start" fill="#000" textLength="12.54" lengthAdjust="spacingAndGlyphs">80</text>
<line x1="642.80" y1="451.70" x2="645.00" y2="451.70" stroke="#3c3c3c" stroke-width="1.3"/>
<line x1="642.80" y1="411.10" x2="645.00" y2="411.10" stroke="#3c3c3c" stroke-width="1.3"/>
<line x1="642.80" y1="370.50" x2="645.00" y2="370.50" stroke="#3c3c3c" stroke-width="1.3"/>
<line x1="642.80" y1="329.90" x2="645.00" y2="329.90" stroke="#3c3c3c" stroke-width="1.3"/>
<line x1="642.80" y1="289.30" x2="645.00" y2="289.30" stroke="#3c3c3c" stroke-width="1.3"/>
<text x="355.30" y="283.00" font-family="Liberation Serif" font-size="20" font-weight="bold" text-anchor="middle" fill="#000" >(d)</text>
<text x="0" y="0" font-family="Liberation Serif" font-size="18" font-weight="bold" text-anchor="middle" transform="translate(361,373.6) rotate(-90)">|Z|<tspan font-weight="normal" font-size="12">(</tspan><tspan font-weight="normal" font-size="18.5">Ω</tspan><tspan dx="8">cm</tspan><tspan font-size="15" dy="-4.5">2</tspan><tspan font-weight="normal" font-size="11" dy="4.5">)</tspan></text>
<text x="0" y="0" font-family="Liberation Serif" font-size="17" font-weight="bold" text-anchor="middle" transform="translate(680.5,370.5) rotate(-90)">Theta(°)</text>
<text x="519" y="506.3" font-family="Liberation Serif" font-size="17.5" font-weight="bold" text-anchor="middle">Frequency(Hz)</text>
<rect x="565.9" y="277.9" width="3.6" height="3.6" fill="#000"/>
<text x="579.80" y="282.40" font-family="Liberation Serif" font-size="10.4" font-weight="bold" text-anchor="start" fill="#000" >Blank</text>
<path d="M567.7,295.1L570.2,290.7L565.2,290.7Z" fill="#0000ff"/>
<text x="579.80" y="295.20" font-family="Liberation Serif" font-size="10.4" font-weight="bold" text-anchor="start" fill="#000" >PDE</text>
<line x1="556.90" y1="305.40" x2="577.00" y2="305.40" stroke="#ff0000" stroke-width="1.5"/>
<text x="579.80" y="307.80" font-family="Liberation Serif" font-size="10.4" font-weight="bold" text-anchor="start" fill="#000" >Fitted curves</text>
<rect x="391.3" y="353.6" width="3.8" height="3.8" fill="#000"/>
<rect x="391.9" y="352.2" width="3.8" height="3.8" fill="#000"/>
<rect x="393.7" y="350.9" width="3.8" height="3.8" fill="#000"/>
<rect x="395.5" y="350.4" width="3.8" height="3.8" fill="#000"/>
<rect x="398.5" y="350.5" width="3.8" height="3.8" fill="#000"/>
<rect x="400.4" y="349.2" width="3.8" height="3.8" fill="#000"/>
<rect x="401.3" y="349.6" width="3.8" height="3.8" fill="#000"/>
<rect x="404.2" y="348.9" width="3.8" height="3.8" fill="#000"/>
<rect x="404.8" y="347.3" width="3.8" height="3.8" fill="#000"/>
<rect x="407.7" y="347.2" width="3.8" height="3.8" fill="#000"/>
<rect x="410.0" y="346.2" width="3.8" height="3.8" fill="#000"/>
<rect x="411.1" y="344.7" width="3.8" height="3.8" fill="#000"/>
<rect x="413.7" y="345.8" width="3.8" height="3.8" fill="#000"/>
<rect x="415.8" y="344.8" width="3.8" height="3.8" fill="#000"/>
<rect x="416.8" y="343.7" width="3.8" height="3.8" fill="#000"/>
<rect x="419.5" y="344.5" width="3.8" height="3.8" fill="#000"/>
<rect x="421.8" y="343.0" width="3.8" height="3.8" fill="#000"/>
<rect x="423.2" y="343.3" width="3.8" height="3.8" fill="#000"/>
<rect x="424.9" y="343.5" width="3.8" height="3.8" fill="#000"/>
<rect x="427.7" y="343.2" width="3.8" height="3.8" fill="#000"/>
<rect x="429.3" y="342.9" width="3.8" height="3.8" fill="#000"/>
<rect x="431.2" y="342.5" width="3.8" height="3.8" fill="#000"/>
<rect x="432.6" y="342.8" width="3.8" height="3.8" fill="#000"/>
<rect x="434.4" y="342.5" width="3.8" height="3.8" fill="#000"/>
<rect x="436.8" y="342.2" width="3.8" height="3.8" fill="#000"/>
<rect x="439.2" y="342.1" width="3.8" height="3.8" fill="#000"/>
<rect x="441.7" y="341.7" width="3.8" height="3.8" fill="#000"/>
<rect x="442.2" y="342.9" width="3.8" height="3.8" fill="#000"/>
<rect x="444.7" y="341.8" width="3.8" height="3.8" fill="#000"/>
<rect x="446.8" y="342.4" width="3.8" height="3.8" fill="#000"/>
<rect x="449.7" y="342.7" width="3.8" height="3.8" fill="#000"/>
<rect x="450.7" y="342.5" width="3.8" height="3.8" fill="#000"/>
<rect x="452.9" y="342.6" width="3.8" height="3.8" fill="#000"/>
<rect x="454.8" y="342.2" width="3.8" height="3.8" fill="#000"/>
<rect x="456.8" y="342.7" width="3.8" height="3.8" fill="#000"/>
<rect x="458.5" y="343.6" width="3.8" height="3.8" fill="#000"/>
<rect x="460.7" y="342.7" width="3.8" height="3.8" fill="#000"/>
<rect x="463.0" y="344.1" width="3.8" height="3.8" fill="#000"/>
<rect x="465.3" y="344.0" width="3.8" height="3.8" fill="#000"/>
<rect x="467.2" y="343.8" width="3.8" height="3.8" fill="#000"/>
<rect x="468.3" y="343.9" width="3.8" height="3.8" fill="#000"/>
<rect x="470.6" y="344.3" width="3.8" height="3.8" fill="#000"/>
<rect x="472.8" y="344.4" width="3.8" height="3.8" fill="#000"/>
<rect x="474.2" y="344.9" width="3.8" height="3.8" fill="#000"/>
<rect x="476.2" y="346.2" width="3.8" height="3.8" fill="#000"/>
<rect x="478.8" y="345.6" width="3.8" height="3.8" fill="#000"/>
<rect x="480.6" y="347.0" width="3.8" height="3.8" fill="#000"/>
<rect x="482.7" y="347.0" width="3.8" height="3.8" fill="#000"/>
<rect x="484.3" y="347.0" width="3.8" height="3.8" fill="#000"/>
<rect x="486.6" y="347.5" width="3.8" height="3.8" fill="#000"/>
<rect x="488.7" y="348.3" width="3.8" height="3.8" fill="#000"/>
<rect x="490.4" y="349.6" width="3.8" height="3.8" fill="#000"/>
<rect x="492.1" y="350.8" width="3.8" height="3.8" fill="#000"/>
<rect x="493.0" y="351.6" width="3.8" height="3.8" fill="#000"/>
<rect x="494.7" y="352.1" width="3.8" height="3.8" fill="#000"/>
<rect x="497.0" y="353.1" width="3.8" height="3.8" fill="#000"/>
<rect x="499.2" y="355.2" width="3.8" height="3.8" fill="#000"/>
<rect x="500.4" y="356.0" width="3.8" height="3.8" fill="#000"/>
<rect x="501.9" y="356.8" width="3.8" height="3.8" fill="#000"/>
<rect x="503.8" y="357.6" width="3.8" height="3.8" fill="#000"/>
<rect x="505.0" y="359.2" width="3.8" height="3.8" fill="#000"/>
<rect x="506.9" y="359.8" width="3.8" height="3.8" fill="#000"/>
<rect x="508.6" y="361.5" width="3.8" height="3.8" fill="#000"/>
<rect x="510.6" y="362.5" width="3.8" height="3.8" fill="#000"/>
<rect x="512.4" y="363.3" width="3.8" height="3.8" fill="#000"/>
<rect x="512.7" y="365.6" width="3.8" height="3.8" fill="#000"/>
<rect x="514.5" y="367.0" width="3.8" height="3.8" fill="#000"/>
<rect x="516.8" y="368.2" width="3.8" height="3.8" fill="#000"/>
<rect x="516.8" y="370.1" width="3.8" height="3.8" fill="#000"/>
<rect x="518.9" y="370.6" width="3.8" height="3.8" fill="#000"/>
<rect x="519.5" y="372.6" width="3.8" height="3.8" fill="#000"/>
<rect x="520.6" y="374.8" width="3.8" height="3.8" fill="#000"/>
<rect x="522.8" y="376.2" width="3.8" height="3.8" fill="#000"/>
<rect x="523.6" y="377.9" width="3.8" height="3.8" fill="#000"/>
<rect x="524.5" y="379.1" width="3.8" height="3.8" fill="#000"/>
<rect x="526.0" y="379.4" width="3.8" height="3.8" fill="#000"/>
<rect x="527.1" y="381.2" width="3.8" height="3.8" fill="#000"/>
<rect x="529.5" y="383.0" width="3.8" height="3.8" fill="#000"/>
<rect x="530.3" y="384.9" width="3.8" height="3.8" fill="#000"/>
<rect x="531.3" y="386.5" width="3.8" height="3.8" fill="#000"/>
<rect x="533.2" y="388.4" width="3.8" height="3.8" fill="#000"/>
<rect x="534.2" y="389.9" width="3.8" height="3.8" fill="#000"/>
<rect x="536.2" y="391.3" width="3.8" height="3.8" fill="#000"/>
<rect x="536.6" y="392.1" width="3.8" height="3.8" fill="#000"/>
<rect x="537.3" y="394.6" width="3.8" height="3.8" fill="#000"/>
<rect x="538.5" y="395.8" width="3.8" height="3.8" fill="#000"/>
<rect x="540.2" y="396.6" width="3.8" height="3.8" fill="#000"/>
<rect x="541.0" y="399.4" width="3.8" height="3.8" fill="#000"/>
<rect x="542.7" y="401.2" width="3.8" height="3.8" fill="#000"/>
<rect x="544.5" y="401.5" width="3.8" height="3.8" fill="#000"/>
<rect x="545.3" y="403.0" width="3.8" height="3.8" fill="#000"/>
<rect x="546.1" y="405.2" width="3.8" height="3.8" fill="#000"/>
<rect x="548.2" y="407.1" width="3.8" height="3.8" fill="#000"/>
<rect x="548.1" y="408.5" width="3.8" height="3.8" fill="#000"/>
<rect x="549.9" y="409.6" width="3.8" height="3.8" fill="#000"/>
<rect x="550.9" y="412.3" width="3.8" height="3.8" fill="#000"/>
<rect x="553.1" y="413.7" width="3.8" height="3.8" fill="#000"/>
<rect x="552.9" y="415.4" width="3.8" height="3.8" fill="#000"/>
<rect x="554.8" y="416.8" width="3.8" height="3.8" fill="#000"/>
<rect x="555.7" y="417.3" width="3.8" height="3.8" fill="#000"/>
<rect x="558.2" y="419.0" width="3.8" height="3.8" fill="#000"/>
<rect x="558.3" y="420.6" width="3.8" height="3.8" fill="#000"/>
<rect x="561.5" y="422.3" width="3.8" height="3.8" fill="#000"/>
<rect x="562.2" y="423.6" width="3.8" height="3.8" fill="#000"/>
<rect x="564.6" y="424.4" width="3.8" height="3.8" fill="#000"/>
<rect x="566.1" y="424.6" width="3.8" height="3.8" fill="#000"/>
<rect x="568.3" y="425.6" width="3.8" height="3.8" fill="#000"/>
<rect x="570.2" y="426.4" width="3.8" height="3.8" fill="#000"/>
<rect x="572.1" y="427.0" width="3.8" height="3.8" fill="#000"/>
<rect x="573.2" y="427.7" width="3.8" height="3.8" fill="#000"/>
<rect x="575.0" y="427.4" width="3.8" height="3.8" fill="#000"/>
<rect x="577.4" y="428.9" width="3.8" height="3.8" fill="#000"/>
<rect x="578.9" y="429.2" width="3.8" height="3.8" fill="#000"/>
<rect x="581.7" y="429.2" width="3.8" height="3.8" fill="#000"/>
<rect x="583.1" y="429.8" width="3.8" height="3.8" fill="#000"/>
<rect x="585.7" y="429.3" width="3.8" height="3.8" fill="#000"/>
<rect x="586.6" y="429.4" width="3.8" height="3.8" fill="#000"/>
<rect x="588.5" y="430.1" width="3.8" height="3.8" fill="#000"/>
<rect x="591.0" y="429.4" width="3.8" height="3.8" fill="#000"/>
<rect x="593.3" y="430.0" width="3.8" height="3.8" fill="#000"/>
<rect x="595.3" y="429.9" width="3.8" height="3.8" fill="#000"/>
<rect x="597.4" y="430.5" width="3.8" height="3.8" fill="#000"/>
<rect x="599.1" y="430.0" width="3.8" height="3.8" fill="#000"/>
<rect x="601.7" y="429.3" width="3.8" height="3.8" fill="#000"/>
<rect x="602.7" y="429.9" width="3.8" height="3.8" fill="#000"/>
<rect x="604.8" y="430.8" width="3.8" height="3.8" fill="#000"/>
<rect x="606.6" y="429.6" width="3.8" height="3.8" fill="#000"/>
<rect x="608.9" y="430.3" width="3.8" height="3.8" fill="#000"/>
<rect x="611.7" y="431.1" width="3.8" height="3.8" fill="#000"/>
<rect x="613.8" y="430.6" width="3.8" height="3.8" fill="#000"/>
<rect x="614.5" y="429.7" width="3.8" height="3.8" fill="#000"/>
<rect x="617.4" y="431.0" width="3.8" height="3.8" fill="#000"/>
<rect x="618.8" y="431.3" width="3.8" height="3.8" fill="#000"/>
<rect x="621.3" y="430.7" width="3.8" height="3.8" fill="#000"/>
<rect x="623.4" y="429.9" width="3.8" height="3.8" fill="#000"/>
<rect x="624.7" y="431.3" width="3.8" height="3.8" fill="#000"/>
<rect x="626.8" y="430.0" width="3.8" height="3.8" fill="#000"/>
<rect x="628.9" y="431.0" width="3.8" height="3.8" fill="#000"/>
<rect x="630.8" y="430.3" width="3.8" height="3.8" fill="#000"/>
<rect x="632.8" y="430.7" width="3.8" height="3.8" fill="#000"/>
<rect x="635.6" y="430.5" width="3.8" height="3.8" fill="#000"/>
<rect x="637.8" y="431.6" width="3.8" height="3.8" fill="#000"/>
<rect x="639.7" y="430.2" width="3.8" height="3.8" fill="#000"/>
<rect x="640.9" y="431.6" width="3.8" height="3.8" fill="#000"/>
<rect x="391.3" y="450.7" width="3.8" height="3.8" fill="#000"/>
<rect x="392.5" y="451.3" width="3.8" height="3.8" fill="#000"/>
<rect x="395.1" y="450.8" width="3.8" height="3.8" fill="#000"/>
<rect x="396.2" y="452.4" width="3.8" height="3.8" fill="#000"/>
<rect x="399.3" y="451.2" width="3.8" height="3.8" fill="#000"/>
<rect x="400.7" y="452.9" width="3.8" height="3.8" fill="#000"/>
<rect x="403.2" y="453.0" width="3.8" height="3.8" fill="#000"/>
<rect x="405.3" y="453.0" width="3.8" height="3.8" fill="#000"/>
<rect x="405.6" y="452.9" width="3.8" height="3.8" fill="#000"/>
<rect x="408.3" y="452.0" width="3.8" height="3.8" fill="#000"/>
<rect x="409.2" y="450.8" width="3.8" height="3.8" fill="#000"/>
<rect x="410.0" y="450.9" width="3.8" height="3.8" fill="#000"/>
<rect x="412.0" y="449.4" width="3.8" height="3.8" fill="#000"/>
<rect x="414.3" y="446.7" width="3.8" height="3.8" fill="#000"/>
<rect x="416.6" y="445.5" width="3.8" height="3.8" fill="#000"/>
<rect x="418.6" y="444.9" width="3.8" height="3.8" fill="#000"/>
<rect x="419.0" y="445.4" width="3.8" height="3.8" fill="#000"/>
<rect x="420.5" y="445.2" width="3.8" height="3.8" fill="#000"/>
<rect x="422.5" y="444.6" width="3.8" height="3.8" fill="#000"/>
<rect x="424.2" y="443.1" width="3.8" height="3.8" fill="#000"/>
<rect x="426.2" y="441.6" width="3.8" height="3.8" fill="#000"/>
<rect x="428.4" y="440.6" width="3.8" height="3.8" fill="#000"/>
<rect x="429.8" y="439.9" width="3.8" height="3.8" fill="#000"/>
<rect x="431.0" y="437.7" width="3.8" height="3.8" fill="#000"/>
<rect x="433.5" y="436.7" width="3.8" height="3.8" fill="#000"/>
<rect x="435.5" y="435.7" width="3.8" height="3.8" fill="#000"/>
<rect x="436.1" y="433.6" width="3.8" height="3.8" fill="#000"/>
<rect x="436.7" y="432.4" width="3.8" height="3.8" fill="#000"/>
<rect x="439.4" y="432.2" width="3.8" height="3.8" fill="#000"/>
<rect x="441.5" y="430.4" width="3.8" height="3.8" fill="#000"/>
<rect x="442.5" y="428.8" width="3.8" height="3.8" fill="#000"/>
<rect x="442.6" y="427.6" width="3.8" height="3.8" fill="#000"/>
<rect x="445.3" y="426.9" width="3.8" height="3.8" fill="#000"/>
<rect x="447.2" y="425.6" width="3.8" height="3.8" fill="#000"/>
<rect x="447.8" y="423.6" width="3.8" height="3.8" fill="#000"/>
<rect x="449.1" y="422.0" width="3.8" height="3.8" fill="#000"/>
<rect x="450.9" y="420.7" width="3.8" height="3.8" fill="#000"/>
<rect x="452.6" y="419.0" width="3.8" height="3.8" fill="#000"/>
<rect x="453.2" y="418.4" width="3.8" height="3.8" fill="#000"/>
<rect x="455.0" y="416.3" width="3.8" height="3.8" fill="#000"/>
<rect x="456.2" y="415.5" width="3.8" height="3.8" fill="#000"/>
<rect x="457.7" y="412.9" width="3.8" height="3.8" fill="#000"/>
<rect x="458.5" y="412.2" width="3.8" height="3.8" fill="#000"/>
<rect x="459.3" y="410.4" width="3.8" height="3.8" fill="#000"/>
<rect x="462.4" y="408.5" width="3.8" height="3.8" fill="#000"/>
<rect x="462.9" y="408.0" width="3.8" height="3.8" fill="#000"/>
<rect x="465.2" y="406.6" width="3.8" height="3.8" fill="#000"/>
<rect x="466.0" y="404.5" width="3.8" height="3.8" fill="#000"/>
<rect x="467.0" y="403.6" width="3.8" height="3.8" fill="#000"/>
<rect x="468.3" y="402.4" width="3.8" height="3.8" fill="#000"/>
<rect x="469.0" y="401.0" width="3.8" height="3.8" fill="#000"/>
<rect x="472.0" y="398.8" width="3.8" height="3.8" fill="#000"/>
<rect x="472.0" y="397.5" width="3.8" height="3.8" fill="#000"/>
<rect x="474.7" y="397.1" width="3.8" height="3.8" fill="#000"/>
<rect x="476.7" y="394.6" width="3.8" height="3.8" fill="#000"/>
<rect x="476.6" y="393.1" width="3.8" height="3.8" fill="#000"/>
<rect x="479.8" y="392.7" width="3.8" height="3.8" fill="#000"/>
<rect x="479.4" y="391.3" width="3.8" height="3.8" fill="#000"/>
<rect x="482.3" y="389.5" width="3.8" height="3.8" fill="#000"/>
<rect x="482.0" y="388.6" width="3.8" height="3.8" fill="#000"/>
<rect x="484.0" y="385.3" width="3.8" height="3.8" fill="#000"/>
<rect x="485.1" y="384.2" width="3.8" height="3.8" fill="#000"/>
<rect x="485.7" y="382.2" width="3.8" height="3.8" fill="#000"/>
<rect x="486.1" y="380.6" width="3.8" height="3.8" fill="#000"/>
<rect x="487.5" y="378.9" width="3.8" height="3.8" fill="#000"/>
<rect x="489.0" y="376.3" width="3.8" height="3.8" fill="#000"/>
<rect x="488.6" y="376.2" width="3.8" height="3.8" fill="#000"/>
<rect x="490.2" y="373.8" width="3.8" height="3.8" fill="#000"/>
<rect x="491.1" y="371.2" width="3.8" height="3.8" fill="#000"/>
<rect x="491.5" y="369.3" width="3.8" height="3.8" fill="#000"/>
<rect x="491.8" y="369.1" width="3.8" height="3.8" fill="#000"/>
<rect x="493.6" y="366.7" width="3.8" height="3.8" fill="#000"/>
<rect x="493.5" y="364.7" width="3.8" height="3.8" fill="#000"/>
<rect x="494.6" y="362.6" width="3.8" height="3.8" fill="#000"/>
<rect x="495.8" y="360.2" width="3.8" height="3.8" fill="#000"/>
<rect x="496.2" y="358.9" width="3.8" height="3.8" fill="#000"/>
<rect x="497.5" y="357.0" width="3.8" height="3.8" fill="#000"/>
<rect x="497.5" y="355.2" width="3.8" height="3.8" fill="#000"/>
<rect x="498.4" y="352.9" width="3.8" height="3.8" fill="#000"/>
<rect x="499.0" y="351.0" width="3.8" height="3.8" fill="#000"/>
<rect x="499.0" y="349.2" width="3.8" height="3.8" fill="#000"/>
<rect x="499.7" y="347.5" width="3.8" height="3.8" fill="#000"/>
<rect x="500.8" y="346.0" width="3.8" height="3.8" fill="#000"/>
<rect x="501.8" y="344.0" width="3.8" height="3.8" fill="#000"/>
<rect x="502.7" y="341.5" width="3.8" height="3.8" fill="#000"/>
<rect x="502.7" y="339.6" width="3.8" height="3.8" fill="#000"/>
<rect x="503.0" y="338.1" width="3.8" height="3.8" fill="#000"/>
<rect x="504.1" y="335.7" width="3.8" height="3.8" fill="#000"/>
<rect x="505.3" y="334.8" width="3.8" height="3.8" fill="#000"/>
<rect x="505.0" y="331.8" width="3.8" height="3.8" fill="#000"/>
<rect x="505.8" y="330.9" width="3.8" height="3.8" fill="#000"/>
<rect x="507.7" y="328.3" width="3.8" height="3.8" fill="#000"/>
<rect x="507.7" y="327.2" width="3.8" height="3.8" fill="#000"/>
<rect x="509.2" y="324.9" width="3.8" height="3.8" fill="#000"/>
<rect x="509.9" y="323.4" width="3.8" height="3.8" fill="#000"/>
<rect x="511.2" y="321.8" width="3.8" height="3.8" fill="#000"/>
<rect x="512.7" y="320.0" width="3.8" height="3.8" fill="#000"/>
<rect x="513.3" y="318.3" width="3.8" height="3.8" fill="#000"/>
<rect x="515.0" y="316.6" width="3.8" height="3.8" fill="#000"/>
<rect x="515.7" y="315.1" width="3.8" height="3.8" fill="#000"/>
<rect x="516.5" y="313.4" width="3.8" height="3.8" fill="#000"/>
<rect x="517.2" y="311.5" width="3.8" height="3.8" fill="#000"/>
<rect x="519.5" y="310.8" width="3.8" height="3.8" fill="#000"/>
<rect x="520.8" y="309.3" width="3.8" height="3.8" fill="#000"/>
<rect x="523.5" y="308.4" width="3.8" height="3.8" fill="#000"/>
<rect x="525.2" y="308.7" width="3.8" height="3.8" fill="#000"/>
<rect x="526.4" y="308.2" width="3.8" height="3.8" fill="#000"/>
<rect x="528.4" y="307.0" width="3.8" height="3.8" fill="#000"/>
<rect x="530.5" y="307.3" width="3.8" height="3.8" fill="#000"/>
<rect x="532.9" y="307.8" width="3.8" height="3.8" fill="#000"/>
<rect x="535.0" y="308.7" width="3.8" height="3.8" fill="#000"/>
<rect x="535.8" y="309.3" width="3.8" height="3.8" fill="#000"/>
<rect x="538.1" y="310.5" width="3.8" height="3.8" fill="#000"/>
<rect x="539.7" y="312.8" width="3.8" height="3.8" fill="#000"/>
<rect x="540.1" y="313.7" width="3.8" height="3.8" fill="#000"/>
<rect x="541.4" y="315.4" width="3.8" height="3.8" fill="#000"/>
<rect x="542.6" y="316.5" width="3.8" height="3.8" fill="#000"/>
<rect x="544.4" y="319.7" width="3.8" height="3.8" fill="#000"/>
<rect x="546.6" y="323.8" width="3.8" height="3.8" fill="#000"/>
<rect x="550.0" y="327.8" width="3.8" height="3.8" fill="#000"/>
<rect x="551.5" y="331.7" width="3.8" height="3.8" fill="#000"/>
<rect x="552.9" y="334.0" width="3.8" height="3.8" fill="#000"/>
<rect x="554.2" y="338.7" width="3.8" height="3.8" fill="#000"/>
<rect x="557.4" y="342.6" width="3.8" height="3.8" fill="#000"/>
<rect x="558.1" y="344.3" width="3.8" height="3.8" fill="#000"/>
<rect x="558.1" y="349.8" width="3.8" height="3.8" fill="#000"/>
<rect x="561.5" y="352.9" width="3.8" height="3.8" fill="#000"/>
<rect x="562.9" y="357.7" width="3.8" height="3.8" fill="#000"/>
<rect x="563.9" y="360.0" width="3.8" height="3.8" fill="#000"/>
<rect x="564.7" y="363.6" width="3.8" height="3.8" fill="#000"/>
<rect x="566.2" y="367.6" width="3.8" height="3.8" fill="#000"/>
<rect x="567.1" y="370.2" width="3.8" height="3.8" fill="#000"/>
<rect x="569.6" y="374.8" width="3.8" height="3.8" fill="#000"/>
<rect x="573.6" y="378.5" width="3.8" height="3.8" fill="#000"/>
<rect x="574.1" y="381.0" width="3.8" height="3.8" fill="#000"/>
<rect x="577.8" y="383.3" width="3.8" height="3.8" fill="#000"/>
<rect x="578.6" y="387.9" width="3.8" height="3.8" fill="#000"/>
<rect x="580.8" y="391.6" width="3.8" height="3.8" fill="#000"/>
<rect x="582.3" y="395.8" width="3.8" height="3.8" fill="#000"/>
<rect x="584.6" y="398.2" width="3.8" height="3.8" fill="#000"/>
<rect x="587.6" y="402.6" width="3.8" height="3.8" fill="#000"/>
<rect x="591.2" y="405.4" width="3.8" height="3.8" fill="#000"/>
<rect x="593.4" y="406.3" width="3.8" height="3.8" fill="#000"/>
<rect x="595.1" y="410.1" width="3.8" height="3.8" fill="#000"/>
<rect x="600.5" y="412.8" width="3.8" height="3.8" fill="#000"/>
<rect x="601.9" y="413.8" width="3.8" height="3.8" fill="#000"/>
<rect x="607.7" y="415.6" width="3.8" height="3.8" fill="#000"/>
<rect x="611.4" y="416.7" width="3.8" height="3.8" fill="#000"/>
<rect x="615.1" y="415.3" width="3.8" height="3.8" fill="#000"/>
<rect x="618.6" y="413.5" width="3.8" height="3.8" fill="#000"/>
<rect x="621.2" y="414.8" width="3.8" height="3.8" fill="#000"/>
<rect x="624.9" y="413.7" width="3.8" height="3.8" fill="#000"/>
<rect x="630.4" y="415.7" width="3.8" height="3.8" fill="#000"/>
<rect x="633.3" y="413.6" width="3.8" height="3.8" fill="#000"/>
<rect x="639.0" y="413.5" width="3.8" height="3.8" fill="#000"/>
<rect x="641.8" y="413.2" width="3.8" height="3.8" fill="#000"/>
<path d="M391.7,346.4L394.2,342.0L389.2,342.0Z" fill="#0000ff"/>
<path d="M394.6,343.8L397.1,339.4L392.1,339.4Z" fill="#0000ff"/>
<path d="M395.3,343.0L397.8,338.6L392.7,338.6Z" fill="#0000ff"/>
<path d="M397.5,343.4L400.0,339.0L395.0,339.0Z" fill="#0000ff"/>
<path d="M398.8,341.2L401.4,336.8L396.3,336.8Z" fill="#0000ff"/>
<path d="M400.9,340.8L403.4,336.4L398.4,336.4Z" fill="#0000ff"/>
<path d="M403.8,340.0L406.3,335.6L401.2,335.6Z" fill="#0000ff"/>
<path d="M405.6,339.2L408.1,334.8L403.1,334.8Z" fill="#0000ff"/>
<path d="M406.6,339.0L409.1,334.6L404.1,334.6Z" fill="#0000ff"/>
<path d="M408.7,337.5L411.2,333.1L406.2,333.1Z" fill="#0000ff"/>
<path d="M410.5,336.6L413.0,332.2L407.9,332.2Z" fill="#0000ff"/>
<path d="M412.2,335.4L414.7,331.0L409.7,331.0Z" fill="#0000ff"/>
<path d="M413.7,335.9L416.2,331.5L411.1,331.5Z" fill="#0000ff"/>
<path d="M415.4,334.3L417.9,329.9L412.9,329.9Z" fill="#0000ff"/>
<path d="M417.3,333.9L419.9,329.5L414.8,329.5Z" fill="#0000ff"/>
<path d="M419.0,333.2L421.6,328.8L416.5,328.8Z" fill="#0000ff"/>
<path d="M421.9,333.1L424.5,328.7L419.4,328.7Z" fill="#0000ff"/>
<path d="M424.3,331.4L426.8,327.0L421.8,327.0Z" fill="#0000ff"/>
<path d="M425.8,331.0L428.3,326.6L423.3,326.6Z" fill="#0000ff"/>
<path d="M427.2,331.2L429.7,326.8L424.7,326.8Z" fill="#0000ff"/>
<path d="M430.0,330.9L432.6,326.5L427.5,326.5Z" fill="#0000ff"/>
<path d="M432.2,329.3L434.8,324.9L429.7,324.9Z" fill="#0000ff"/>
<path d="M433.0,329.7L435.5,325.3L430.5,325.3Z" fill="#0000ff"/>
<path d="M434.5,328.6L437.0,324.2L431.9,324.2Z" fill="#0000ff"/>
<path d="M437.0,329.2L439.6,324.8L434.5,324.8Z" fill="#0000ff"/>
<path d="M438.6,328.1L441.1,323.7L436.1,323.7Z" fill="#0000ff"/>
<path d="M440.9,329.2L443.5,324.8L438.4,324.8Z" fill="#0000ff"/>
<path d="M443.4,329.6L445.9,325.2L440.8,325.2Z" fill="#0000ff"/>
<path d="M445.4,329.5L448.0,325.1L442.9,325.1Z" fill="#0000ff"/>
<path d="M447.4,328.9L449.9,324.5L444.8,324.5Z" fill="#0000ff"/>
<path d="M449.1,328.4L451.6,324.0L446.5,324.0Z" fill="#0000ff"/>
<path d="M450.4,329.7L453.0,325.3L447.9,325.3Z" fill="#0000ff"/>
<path d="M453.8,328.8L456.4,324.4L451.3,324.4Z" fill="#0000ff"/>
<path d="M454.6,329.6L457.1,325.2L452.1,325.2Z" fill="#0000ff"/>
<path d="M456.8,330.9L459.3,326.5L454.3,326.5Z" fill="#0000ff"/>
<path d="M458.7,330.3L461.2,325.9L456.1,325.9Z" fill="#0000ff"/>
<path d="M461.1,331.8L463.6,327.4L458.5,327.4Z" fill="#0000ff"/>
<path d="M462.7,331.6L465.2,327.2L460.1,327.2Z" fill="#0000ff"/>
<path d="M464.2,331.7L466.7,327.3L461.7,327.3Z" fill="#0000ff"/>
<path d="M467.7,331.8L470.2,327.4L465.2,327.4Z" fill="#0000ff"/>
<path d="M468.6,333.0L471.2,328.6L466.1,328.6Z" fill="#0000ff"/>
<path d="M470.9,333.4L473.5,329.0L468.4,329.0Z" fill="#0000ff"/>
<path d="M473.0,334.0L475.5,329.6L470.4,329.6Z" fill="#0000ff"/>
<path d="M474.4,334.0L476.9,329.6L471.9,329.6Z" fill="#0000ff"/>
<path d="M476.5,334.8L479.0,330.4L473.9,330.4Z" fill="#0000ff"/>
<path d="M478.7,335.9L481.2,331.5L476.2,331.5Z" fill="#0000ff"/>
<path d="M480.3,335.7L482.8,331.3L477.8,331.3Z" fill="#0000ff"/>
<path d="M483.0,337.2L485.5,332.8L480.5,332.8Z" fill="#0000ff"/>
<path d="M483.8,337.5L486.4,333.1L481.3,333.1Z" fill="#0000ff"/>
<path d="M485.7,338.2L488.2,333.8L483.2,333.8Z" fill="#0000ff"/>
<path d="M487.2,338.6L489.7,334.2L484.6,334.2Z" fill="#0000ff"/>
<path d="M489.9,339.9L492.4,335.5L487.3,335.5Z" fill="#0000ff"/>
<path d="M492.2,341.2L494.7,336.8L489.6,336.8Z" fill="#0000ff"/>
<path d="M493.1,341.8L495.6,337.4L490.6,337.4Z" fill="#0000ff"/>
<path d="M493.6,343.2L496.2,338.8L491.1,338.8Z" fill="#0000ff"/>
<path d="M496.1,344.9L498.7,340.5L493.6,340.5Z" fill="#0000ff"/>
<path d="M496.9,345.9L499.5,341.5L494.4,341.5Z" fill="#0000ff"/>
<path d="M498.3,347.4L500.8,343.0L495.8,343.0Z" fill="#0000ff"/>
<path d="M501.2,348.2L503.8,343.8L498.7,343.8Z" fill="#0000ff"/>
<path d="M502.6,349.8L505.1,345.4L500.0,345.4Z" fill="#0000ff"/>
<path d="M503.4,350.0L505.9,345.6L500.9,345.6Z" fill="#0000ff"/>
<path d="M505.8,351.8L508.3,347.4L503.2,347.4Z" fill="#0000ff"/>
<path d="M506.2,353.3L508.7,348.9L503.7,348.9Z" fill="#0000ff"/>
<path d="M508.9,355.5L511.4,351.1L506.4,351.1Z" fill="#0000ff"/>
<path d="M509.9,356.9L512.4,352.5L507.3,352.5Z" fill="#0000ff"/>
<path d="M510.6,357.5L513.1,353.1L508.0,353.1Z" fill="#0000ff"/>
<path d="M511.7,358.5L514.2,354.1L509.1,354.1Z" fill="#0000ff"/>
<path d="M514.6,359.7L517.1,355.3L512.0,355.3Z" fill="#0000ff"/>
<path d="M515.5,362.0L518.0,357.6L513.0,357.6Z" fill="#0000ff"/>
<path d="M517.4,364.3L519.9,359.9L514.9,359.9Z" fill="#0000ff"/>
<path d="M517.1,364.6L519.6,360.2L514.6,360.2Z" fill="#0000ff"/>
<path d="M520.0,366.2L522.5,361.8L517.4,361.8Z" fill="#0000ff"/>
<path d="M519.8,368.8L522.3,364.4L517.2,364.4Z" fill="#0000ff"/>
<path d="M521.8,369.3L524.4,364.9L519.3,364.9Z" fill="#0000ff"/>
<path d="M523.0,371.0L525.5,366.6L520.4,366.6Z" fill="#0000ff"/>
<path d="M524.1,372.8L526.6,368.4L521.5,368.4Z" fill="#0000ff"/>
<path d="M524.8,374.5L527.4,370.1L522.3,370.1Z" fill="#0000ff"/>
<path d="M527.5,376.0L530.0,371.6L525.0,371.6Z" fill="#0000ff"/>
<path d="M528.5,377.0L531.0,372.6L525.9,372.6Z" fill="#0000ff"/>
<path d="M528.6,378.0L531.1,373.6L526.1,373.6Z" fill="#0000ff"/>
<path d="M531.3,379.8L533.8,375.4L528.8,375.4Z" fill="#0000ff"/>
<path d="M531.4,382.4L534.0,378.0L528.9,378.0Z" fill="#0000ff"/>
<path d="M533.3,383.9L535.8,379.5L530.7,379.5Z" fill="#0000ff"/>
<path d="M533.9,385.9L536.4,381.5L531.3,381.5Z" fill="#0000ff"/>
<path d="M535.0,387.6L537.6,383.2L532.5,383.2Z" fill="#0000ff"/>
<path d="M535.4,389.0L538.0,384.6L532.9,384.6Z" fill="#0000ff"/>
<path d="M536.6,390.1L539.1,385.7L534.1,385.7Z" fill="#0000ff"/>
<path d="M538.3,391.4L540.8,387.0L535.8,387.0Z" fill="#0000ff"/>
<path d="M539.3,394.3L541.9,389.9L536.8,389.9Z" fill="#0000ff"/>
<path d="M539.6,394.9L542.2,390.5L537.1,390.5Z" fill="#0000ff"/>
<path d="M542.4,397.0L544.9,392.6L539.8,392.6Z" fill="#0000ff"/>
<path d="M542.4,399.6L544.9,395.2L539.8,395.2Z" fill="#0000ff"/>
<path d="M544.1,400.0L546.6,395.6L541.5,395.6Z" fill="#0000ff"/>
<path d="M544.8,401.7L547.3,397.3L542.3,397.3Z" fill="#0000ff"/>
<path d="M546.1,404.1L548.7,399.7L543.6,399.7Z" fill="#0000ff"/>
<path d="M547.2,404.9L549.7,400.5L544.7,400.5Z" fill="#0000ff"/>
<path d="M548.5,406.9L551.0,402.5L546.0,402.5Z" fill="#0000ff"/>
<path d="M549.4,409.0L551.9,404.6L546.9,404.6Z" fill="#0000ff"/>
<path d="M550.6,410.1L553.1,405.7L548.0,405.7Z" fill="#0000ff"/>
<path d="M550.2,412.4L552.7,408.0L547.6,408.0Z" fill="#0000ff"/>
<path d="M552.9,414.0L555.4,409.6L550.3,409.6Z" fill="#0000ff"/>
<path d="M553.3,415.1L555.8,410.7L550.7,410.7Z" fill="#0000ff"/>
<path d="M554.5,417.2L557.1,412.8L552.0,412.8Z" fill="#0000ff"/>
<path d="M556.3,419.4L558.9,415.0L553.8,415.0Z" fill="#0000ff"/>
<path d="M556.7,419.9L559.3,415.5L554.2,415.5Z" fill="#0000ff"/>
<path d="M557.2,423.1L559.7,418.7L554.7,418.7Z" fill="#0000ff"/>
<path d="M559.1,423.5L561.7,419.1L556.6,419.1Z" fill="#0000ff"/>
<path d="M560.7,425.0L563.3,420.6L558.2,420.6Z" fill="#0000ff"/>
<path d="M561.5,427.6L564.1,423.2L559.0,423.2Z" fill="#0000ff"/>
<path d="M562.5,427.4L565.0,423.0L560.0,423.0Z" fill="#0000ff"/>
<path d="M564.0,428.6L566.6,424.2L561.5,424.2Z" fill="#0000ff"/>
<path d="M566.3,429.9L568.9,425.5L563.8,425.5Z" fill="#0000ff"/>
<path d="M567.9,430.4L570.5,426.0L565.4,426.0Z" fill="#0000ff"/>
<path d="M570.1,432.0L572.6,427.6L567.6,427.6Z" fill="#0000ff"/>
<path d="M572.4,432.6L574.9,428.2L569.9,428.2Z" fill="#0000ff"/>
<path d="M574.0,433.3L576.5,428.9L571.4,428.9Z" fill="#0000ff"/>
<path d="M576.2,433.6L578.7,429.2L573.6,429.2Z" fill="#0000ff"/>
<path d="M577.6,434.7L580.2,430.3L575.1,430.3Z" fill="#0000ff"/>
<path d="M579.5,435.3L582.0,430.9L577.0,430.9Z" fill="#0000ff"/>
<path d="M581.6,435.3L584.1,430.9L579.1,430.9Z" fill="#0000ff"/>
<path d="M584.1,436.8L586.6,432.4L581.6,432.4Z" fill="#0000ff"/>
<path d="M585.6,436.6L588.1,432.2L583.1,432.2Z" fill="#0000ff"/>
<path d="M587.9,436.3L590.4,431.9L585.3,431.9Z" fill="#0000ff"/>
<path d="M589.6,436.9L592.1,432.5L587.1,432.5Z" fill="#0000ff"/>
<path d="M591.4,437.0L593.9,432.6L588.9,432.6Z" fill="#0000ff"/>
<path d="M593.5,437.0L596.0,432.6L590.9,432.6Z" fill="#0000ff"/>
<path d="M594.9,437.2L597.5,432.8L592.4,432.8Z" fill="#0000ff"/>
<path d="M597.5,437.5L600.1,433.1L595.0,433.1Z" fill="#0000ff"/>
<path d="M599.9,438.9L602.4,434.5L597.3,434.5Z" fill="#0000ff"/>
<path d="M601.8,438.0L604.4,433.6L599.3,433.6Z" fill="#0000ff"/>
<path d="M604.2,438.1L606.7,433.7L601.6,433.7Z" fill="#0000ff"/>
<path d="M605.1,438.7L607.6,434.3L602.6,434.3Z" fill="#0000ff"/>
<path d="M607.6,438.4L610.2,434.0L605.1,434.0Z" fill="#0000ff"/>
<path d="M609.9,439.3L612.4,434.9L607.3,434.9Z" fill="#0000ff"/>
<path d="M611.0,438.2L613.5,433.8L608.4,433.8Z" fill="#0000ff"/>
<path d="M613.2,439.1L615.7,434.7L610.6,434.7Z" fill="#0000ff"/>
<path d="M615.7,438.3L618.2,433.9L613.1,433.9Z" fill="#0000ff"/>
<path d="M617.2,439.6L619.7,435.2L614.6,435.2Z" fill="#0000ff"/>
<path d="M620.2,439.1L622.7,434.7L617.6,434.7Z" fill="#0000ff"/>
<path d="M621.9,439.6L624.4,435.2L619.3,435.2Z" fill="#0000ff"/>
<path d="M622.8,438.2L625.4,433.8L620.3,433.8Z" fill="#0000ff"/>
<path d="M625.5,438.8L628.1,434.4L623.0,434.4Z" fill="#0000ff"/>
<path d="M627.7,438.7L630.3,434.3L625.2,434.3Z" fill="#0000ff"/>
<path d="M629.2,439.6L631.8,435.2L626.7,435.2Z" fill="#0000ff"/>
<path d="M630.6,438.9L633.1,434.5L628.1,434.5Z" fill="#0000ff"/>
<path d="M632.7,439.2L635.3,434.8L630.2,434.8Z" fill="#0000ff"/>
<path d="M635.8,440.0L638.3,435.6L633.2,435.6Z" fill="#0000ff"/>
<path d="M637.8,438.5L640.3,434.1L635.3,434.1Z" fill="#0000ff"/>
<path d="M639.2,439.3L641.8,434.9L636.7,434.9Z" fill="#0000ff"/>
<path d="M641.6,439.6L644.1,435.2L639.1,435.2Z" fill="#0000ff"/>
<path d="M644.2,440.0L646.7,435.6L641.7,435.6Z" fill="#0000ff"/>
<path d="M391.9,462.2L394.4,457.8L389.3,457.8Z" fill="#0000ff"/>
<path d="M395.5,462.7L398.0,458.3L392.9,458.3Z" fill="#0000ff"/>
<path d="M397.4,463.2L399.9,458.8L394.8,458.8Z" fill="#0000ff"/>
<path d="M398.5,463.8L401.0,459.4L395.9,459.4Z" fill="#0000ff"/>
<path d="M399.4,464.7L401.9,460.3L396.9,460.3Z" fill="#0000ff"/>
<path d="M402.7,466.2L405.3,461.8L400.2,461.8Z" fill="#0000ff"/>
<path d="M403.5,465.8L406.0,461.4L401.0,461.4Z" fill="#0000ff"/>
<path d="M405.5,466.4L408.1,462.0L403.0,462.0Z" fill="#0000ff"/>
<path d="M407.2,467.3L409.8,462.9L404.7,462.9Z" fill="#0000ff"/>
<path d="M409.7,467.7L412.3,463.3L407.2,463.3Z" fill="#0000ff"/>
<path d="M410.6,466.0L413.2,461.6L408.1,461.6Z" fill="#0000ff"/>
<path d="M413.4,464.0L415.9,459.6L410.8,459.6Z" fill="#0000ff"/>
<path d="M414.5,462.9L417.1,458.5L412.0,458.5Z" fill="#0000ff"/>
<path d="M417.3,462.1L419.9,457.7L414.8,457.7Z" fill="#0000ff"/>
<path d="M417.1,461.3L419.7,456.9L414.6,456.9Z" fill="#0000ff"/>
<path d="M419.8,461.1L422.4,456.7L417.3,456.7Z" fill="#0000ff"/>
<path d="M422.0,458.7L424.6,454.3L419.5,454.3Z" fill="#0000ff"/>
<path d="M424.3,457.5L426.8,453.1L421.8,453.1Z" fill="#0000ff"/>
<path d="M425.7,456.9L428.3,452.5L423.2,452.5Z" fill="#0000ff"/>
<path d="M427.9,456.5L430.4,452.1L425.3,452.1Z" fill="#0000ff"/>
<path d="M429.6,457.0L432.1,452.6L427.0,452.6Z" fill="#0000ff"/>
<path d="M431.1,454.2L433.7,449.8L428.6,449.8Z" fill="#0000ff"/>
<path d="M431.7,452.8L434.3,448.4L429.2,448.4Z" fill="#0000ff"/>
<path d="M433.7,453.2L436.2,448.8L431.2,448.8Z" fill="#0000ff"/>
<path d="M434.4,450.8L436.9,446.4L431.9,446.4Z" fill="#0000ff"/>
<path d="M435.8,448.0L438.3,443.6L433.3,443.6Z" fill="#0000ff"/>
<path d="M436.2,446.8L438.7,442.4L433.6,442.4Z" fill="#0000ff"/>
<path d="M438.0,445.2L440.5,440.8L435.4,440.8Z" fill="#0000ff"/>
<path d="M438.1,443.7L440.6,439.3L435.6,439.3Z" fill="#0000ff"/>
<path d="M438.8,440.9L441.3,436.5L436.2,436.5Z" fill="#0000ff"/>
<path d="M439.8,439.1L442.4,434.7L437.3,434.7Z" fill="#0000ff"/>
<path d="M441.8,438.4L444.4,434.0L439.3,434.0Z" fill="#0000ff"/>
<path d="M442.8,436.9L445.3,432.5L440.3,432.5Z" fill="#0000ff"/>
<path d="M442.6,435.8L445.2,431.4L440.1,431.4Z" fill="#0000ff"/>
<path d="M445.4,432.3L447.9,427.9L442.9,427.9Z" fill="#0000ff"/>
<path d="M445.6,432.3L448.1,427.9L443.1,427.9Z" fill="#0000ff"/>
<path d="M446.7,430.8L449.2,426.4L444.1,426.4Z" fill="#0000ff"/>
<path d="M448.3,428.7L450.9,424.3L445.8,424.3Z" fill="#0000ff"/>
<path d="M449.9,427.2L452.4,422.8L447.3,422.8Z" fill="#0000ff"/>
<path d="M450.2,424.0L452.8,419.6L447.7,419.6Z" fill="#0000ff"/>
<path d="M451.0,423.7L453.6,419.3L448.5,419.3Z" fill="#0000ff"/>
<path d="M452.3,421.8L454.8,417.4L449.7,417.4Z" fill="#0000ff"/>
<path d="M452.9,420.6L455.5,416.2L450.4,416.2Z" fill="#0000ff"/>
<path d="M453.8,418.5L456.3,414.1L451.2,414.1Z" fill="#0000ff"/>
<path d="M455.2,415.7L457.8,411.3L452.7,411.3Z" fill="#0000ff"/>
<path d="M455.4,414.0L457.9,409.6L452.9,409.6Z" fill="#0000ff"/>
<path d="M457.0,413.0L459.6,408.6L454.5,408.6Z" fill="#0000ff"/>
<path d="M457.6,410.5L460.1,406.1L455.0,406.1Z" fill="#0000ff"/>
<path d="M460.4,410.8L462.9,406.4L457.8,406.4Z" fill="#0000ff"/>
<path d="M460.7,408.0L463.2,403.6L458.1,403.6Z" fill="#0000ff"/>
<path d="M462.2,405.6L464.8,401.2L459.7,401.2Z" fill="#0000ff"/>
<path d="M463.3,405.3L465.8,400.9L460.8,400.9Z" fill="#0000ff"/>
<path d="M465.4,403.6L468.0,399.2L462.9,399.2Z" fill="#0000ff"/>
<path d="M465.8,401.6L468.3,397.2L463.3,397.2Z" fill="#0000ff"/>
<path d="M467.9,400.3L470.4,395.9L465.3,395.9Z" fill="#0000ff"/>
<path d="M468.2,399.2L470.7,394.8L465.6,394.8Z" fill="#0000ff"/>
<path d="M469.3,396.1L471.8,391.7L466.7,391.7Z" fill="#0000ff"/>
<path d="M470.8,396.2L473.3,391.8L468.3,391.8Z" fill="#0000ff"/>
<path d="M471.4,392.9L474.0,388.5L468.9,388.5Z" fill="#0000ff"/>
<path d="M472.0,393.0L474.5,388.6L469.5,388.6Z" fill="#0000ff"/>
<path d="M473.2,390.8L475.7,386.4L470.6,386.4Z" fill="#0000ff"/>
<path d="M474.2,388.9L476.8,384.5L471.7,384.5Z" fill="#0000ff"/>
<path d="M477.2,386.6L479.7,382.2L474.6,382.2Z" fill="#0000ff"/>
<path d="M476.9,385.8L479.5,381.4L474.4,381.4Z" fill="#0000ff"/>
<path d="M478.6,384.0L481.1,379.6L476.1,379.6Z" fill="#0000ff"/>
<path d="M479.2,381.1L481.8,376.7L476.7,376.7Z" fill="#0000ff"/>
<path d="M480.7,379.9L483.3,375.5L478.2,375.5Z" fill="#0000ff"/>
<path d="M481.8,378.6L484.3,374.2L479.3,374.2Z" fill="#0000ff"/>
<path d="M482.0,378.1L484.6,373.7L479.5,373.7Z" fill="#0000ff"/>
<path d="M483.1,376.3L485.7,371.9L480.6,371.9Z" fill="#0000ff"/>
<path d="M484.5,373.6L487.0,369.2L482.0,369.2Z" fill="#0000ff"/>
<path d="M485.0,371.0L487.5,366.6L482.5,366.6Z" fill="#0000ff"/>
<path d="M486.9,369.9L489.5,365.5L484.4,365.5Z" fill="#0000ff"/>
<path d="M487.6,367.5L490.1,363.1L485.1,363.1Z" fill="#0000ff"/>
<path d="M488.4,366.8L490.9,362.4L485.8,362.4Z" fill="#0000ff"/>
<path d="M489.8,365.0L492.4,360.6L487.3,360.6Z" fill="#0000ff"/>
<path d="M489.9,363.3L492.5,358.9L487.4,358.9Z" fill="#0000ff"/>
<path d="M491.1,361.0L493.7,356.6L488.6,356.6Z" fill="#0000ff"/>
<path d="M492.0,358.8L494.5,354.4L489.5,354.4Z" fill="#0000ff"/>
<path d="M491.5,356.6L494.0,352.2L488.9,352.2Z" fill="#0000ff"/>
<path d="M494.1,356.3L496.6,351.9L491.6,351.9Z" fill="#0000ff"/>
<path d="M494.4,353.0L496.9,348.6L491.9,348.6Z" fill="#0000ff"/>
<path d="M495.0,352.3L497.5,347.9L492.5,347.9Z" fill="#0000ff"/>
<path d="M494.9,349.3L497.4,344.9L492.3,344.9Z" fill="#0000ff"/>
<path d="M494.9,348.3L497.4,343.9L492.4,343.9Z" fill="#0000ff"/>
<path d="M496.3,346.2L498.8,341.8L493.7,341.8Z" fill="#0000ff"/>
<path d="M496.2,344.1L498.8,339.7L493.7,339.7Z" fill="#0000ff"/>
<path d="M497.2,342.0L499.7,337.6L494.7,337.6Z" fill="#0000ff"/>
<path d="M497.0,340.5L499.5,336.1L494.5,336.1Z" fill="#0000ff"/>
<path d="M498.0,338.4L500.5,334.0L495.5,334.0Z" fill="#0000ff"/>
<path d="M498.8,335.8L501.3,331.4L496.2,331.4Z" fill="#0000ff"/>
<path d="M499.3,333.9L501.9,329.5L496.8,329.5Z" fill="#0000ff"/>
<path d="M499.9,333.0L502.4,328.6L497.4,328.6Z" fill="#0000ff"/>
<path d="M501.1,330.8L503.7,326.4L498.6,326.4Z" fill="#0000ff"/>
<path d="M501.4,329.1L503.9,324.7L498.9,324.7Z" fill="#0000ff"/>
<path d="M502.7,327.2L505.3,322.8L500.2,322.8Z" fill="#0000ff"/>
<path d="M503.7,325.7L506.2,321.3L501.1,321.3Z" fill="#0000ff"/>
<path d="M504.3,323.6L506.8,319.2L501.7,319.2Z" fill="#0000ff"/>
<path d="M505.2,321.7L507.7,317.3L502.7,317.3Z" fill="#0000ff"/>
<path d="M506.2,319.5L508.7,315.1L503.7,315.1Z" fill="#0000ff"/>
<path d="M506.5,317.7L509.0,313.3L503.9,313.3Z" fill="#0000ff"/>
<path d="M507.3,316.3L509.9,311.9L504.8,311.9Z" fill="#0000ff"/>
<path d="M508.6,314.8L511.1,310.4L506.0,310.4Z" fill="#0000ff"/>
<path d="M509.4,312.4L512.0,308.0L506.9,308.0Z" fill="#0000ff"/>
<path d="M511.2,310.7L513.7,306.3L508.6,306.3Z" fill="#0000ff"/>
<path d="M511.7,309.6L514.3,305.2L509.2,305.2Z" fill="#0000ff"/>
<path d="M513.1,307.5L515.6,303.1L510.5,303.1Z" fill="#0000ff"/>
<path d="M513.8,306.2L516.3,301.8L511.3,301.8Z" fill="#0000ff"/>
<path d="M515.1,304.9L517.7,300.5L512.6,300.5Z" fill="#0000ff"/>
<path d="M516.4,303.4L518.9,299.0L513.9,299.0Z" fill="#0000ff"/>
<path d="M517.5,301.6L520.0,297.2L515.0,297.2Z" fill="#0000ff"/>
<path d="M519.3,300.1L521.8,295.7L516.8,295.7Z" fill="#0000ff"/>
<path d="M521.1,299.4L523.6,295.0L518.6,295.0Z" fill="#0000ff"/>
<path d="M522.6,298.3L525.1,293.9L520.1,293.9Z" fill="#0000ff"/>
<path d="M524.2,297.3L526.7,292.9L521.7,292.9Z" fill="#0000ff"/>
<path d="M526.8,296.3L529.4,291.9L524.3,291.9Z" fill="#0000ff"/>
<path d="M528.8,295.6L531.3,291.2L526.2,291.2Z" fill="#0000ff"/>
<path d="M530.3,295.9L532.8,291.5L527.7,291.5Z" fill="#0000ff"/>
<path d="M532.9,296.0L535.4,291.6L530.4,291.6Z" fill="#0000ff"/>
<path d="M534.1,296.5L536.6,292.1L531.6,292.1Z" fill="#0000ff"/>
<path d="M536.1,297.0L538.6,292.6L533.6,292.6Z" fill="#0000ff"/>
<path d="M537.9,297.2L540.4,292.8L535.4,292.8Z" fill="#0000ff"/>
<path d="M539.5,298.8L542.0,294.4L537.0,294.4Z" fill="#0000ff"/>
<path d="M541.8,299.9L544.3,295.5L539.2,295.5Z" fill="#0000ff"/>
<path d="M542.3,301.4L544.9,297.0L539.8,297.0Z" fill="#0000ff"/>
<path d="M544.5,303.0L547.0,298.6L541.9,298.6Z" fill="#0000ff"/>
<path d="M544.6,304.4L547.1,300.0L542.0,300.0Z" fill="#0000ff"/>
<path d="M548.7,308.0L551.2,303.6L546.2,303.6Z" fill="#0000ff"/>
<path d="M551.1,311.0L553.6,306.6L548.5,306.6Z" fill="#0000ff"/>
<path d="M552.1,312.9L554.6,308.5L549.6,308.5Z" fill="#0000ff"/>
<path d="M552.6,313.4L555.1,309.0L550.0,309.0Z" fill="#0000ff"/>
<path d="M555.3,317.2L557.8,312.8L552.8,312.8Z" fill="#0000ff"/>
<path d="M556.8,319.0L559.3,314.6L554.3,314.6Z" fill="#0000ff"/>
<path d="M557.7,323.4L560.3,319.0L555.2,319.0Z" fill="#0000ff"/>
<path d="M558.6,326.4L561.2,322.0L556.1,322.0Z" fill="#0000ff"/>
<path d="M558.1,328.8L560.6,324.4L555.5,324.4Z" fill="#0000ff"/>
<path d="M557.8,330.9L560.4,326.5L555.3,326.5Z" fill="#0000ff"/>
<path d="M560.1,333.5L562.6,329.1L557.6,329.1Z" fill="#0000ff"/>
<path d="M560.4,337.8L563.0,333.4L557.9,333.4Z" fill="#0000ff"/>
<path d="M562.2,341.4L564.7,337.0L559.6,337.0Z" fill="#0000ff"/>
<path d="M562.7,343.1L565.3,338.7L560.2,338.7Z" fill="#0000ff"/>
<path d="M563.7,346.6L566.2,342.2L561.2,342.2Z" fill="#0000ff"/>
<path d="M565.2,350.0L567.8,345.6L562.7,345.6Z" fill="#0000ff"/>
<path d="M564.5,350.4L567.1,346.0L562.0,346.0Z" fill="#0000ff"/>
<path d="M565.6,354.8L568.2,350.4L563.1,350.4Z" fill="#0000ff"/>
<path d="M567.4,356.5L569.9,352.1L564.8,352.1Z" fill="#0000ff"/>
<path d="M567.2,360.6L569.7,356.2L564.7,356.2Z" fill="#0000ff"/>
<path d="M568.3,364.0L570.9,359.6L565.8,359.6Z" fill="#0000ff"/>
<path d="M569.2,366.6L571.7,362.2L566.7,362.2Z" fill="#0000ff"/>
<path d="M570.8,369.0L573.3,364.6L568.3,364.6Z" fill="#0000ff"/>
<path d="M574.1,372.3L576.7,367.9L571.6,367.9Z" fill="#0000ff"/>
<path d="M576.0,372.1L578.5,367.7L573.5,367.7Z" fill="#0000ff"/>
<path d="M576.9,377.3L579.4,372.9L574.3,372.9Z" fill="#0000ff"/>
<path d="M578.8,378.5L581.3,374.1L576.2,374.1Z" fill="#0000ff"/>
<path d="M580.3,380.6L582.8,376.2L577.8,376.2Z" fill="#0000ff"/>
<path d="M582.0,383.5L584.6,379.1L579.5,379.1Z" fill="#0000ff"/>
<path d="M584.2,384.8L586.7,380.4L581.7,380.4Z" fill="#0000ff"/>
<path d="M584.9,387.5L587.4,383.1L582.3,383.1Z" fill="#0000ff"/>
<path d="M587.5,392.2L590.0,387.8L584.9,387.8Z" fill="#0000ff"/>
<path d="M588.8,393.9L591.4,389.5L586.3,389.5Z" fill="#0000ff"/>
<path d="M590.1,393.6L592.6,389.2L587.6,389.2Z" fill="#0000ff"/>
<path d="M593.5,397.2L596.1,392.8L591.0,392.8Z" fill="#0000ff"/>
<path d="M592.9,400.6L595.5,396.2L590.4,396.2Z" fill="#0000ff"/>
<path d="M597.1,401.3L599.7,396.9L594.6,396.9Z" fill="#0000ff"/>
<path d="M598.0,404.5L600.5,400.1L595.5,400.1Z" fill="#0000ff"/>
<path d="M598.0,406.1L600.6,401.7L595.5,401.7Z" fill="#0000ff"/>
<path d="M599.9,409.2L602.4,404.8L597.3,404.8Z" fill="#0000ff"/>
<path d="M602.6,412.2L605.1,407.8L600.1,407.8Z" fill="#0000ff"/>
<path d="M605.6,415.3L608.1,410.9L603.1,410.9Z" fill="#0000ff"/>
<path d="M608.6,415.1L611.2,410.7L606.1,410.7Z" fill="#0000ff"/>
<path d="M610.6,418.7L613.1,414.3L608.0,414.3Z" fill="#0000ff"/>
<path d="M612.2,418.9L614.8,414.5L609.7,414.5Z" fill="#0000ff"/>
<path d="M617.4,419.8L619.9,415.4L614.8,415.4Z" fill="#0000ff"/>
<path d="M619.4,419.5L621.9,415.1L616.9,415.1Z" fill="#0000ff"/>
<path d="M623.1,422.1L625.7,417.7L620.6,417.7Z" fill="#0000ff"/>
<path d="M623.9,421.6L626.4,417.2L621.4,417.2Z" fill="#0000ff"/>
<path d="M625.9,422.4L628.4,418.0L623.4,418.0Z" fill="#0000ff"/>
<path d="M631.4,422.5L633.9,418.1L628.9,418.1Z" fill="#0000ff"/>
<path d="M632.1,420.3L634.7,415.9L629.6,415.9Z" fill="#0000ff"/>
<path d="M635.2,420.3L637.7,415.9L632.7,415.9Z" fill="#0000ff"/>
<path d="M638.3,420.2L640.8,415.8L635.8,415.8Z" fill="#0000ff"/>
<path d="M642.3,422.7L644.9,418.3L639.8,418.3Z" fill="#0000ff"/>
<polyline points="392.5,355.0 393.3,354.7 394.3,354.3 395.6,353.8 397.0,353.3 398.5,352.7 400.0,352.1 401.5,351.5 403.0,351.0 404.5,350.5 406.0,349.9 407.5,349.3 409.1,348.8 410.7,348.2 412.2,347.7 413.8,347.2 415.4,346.8 417.0,346.4 418.5,346.1 420.1,345.8 421.6,345.6 423.2,345.4 424.8,345.2 426.4,345.0 428.0,344.8 429.6,344.6 431.2,344.5 432.9,344.4 434.5,344.2 436.2,344.2 437.8,344.1 439.5,344.0 441.2,344.0 442.9,344.0 444.6,344.0 446.4,344.1 448.2,344.1 449.9,344.2 451.7,344.3 453.4,344.4 455.0,344.5 456.6,344.6 458.2,344.7 459.7,344.9 461.2,345.0 462.7,345.2 464.1,345.3 465.6,345.5 467.0,345.7 468.4,345.9 469.9,346.1 471.3,346.3 472.7,346.5 474.0,346.8 475.4,347.0 476.7,347.2 478.0,347.5 479.2,347.7 480.4,347.9 481.5,348.1 482.6,348.3 483.7,348.6 484.8,348.9 486.1,349.3 487.5,349.8 489.1,350.4 490.7,351.2 492.5,352.0 494.4,352.9 496.2,353.8 498.1,354.8 499.9,355.8 501.6,356.8 503.2,357.8 504.8,358.8 506.3,359.7 507.9,360.8 509.4,361.8 510.9,363.0 512.4,364.2 513.9,365.6 515.4,367.1 517.0,368.8 518.6,370.5 520.1,372.4 521.6,374.2 523.2,376.1 524.7,377.9 526.1,379.6 527.5,381.2 528.9,382.8 530.2,384.3 531.5,385.7 532.8,387.2 534.1,388.7 535.4,390.3 536.7,391.9 538.0,393.6 539.4,395.4 540.8,397.2 542.1,399.1 543.5,400.9 544.8,402.7 546.0,404.4 547.2,406.0 548.3,407.5 549.4,408.9 550.4,410.2 551.3,411.4 552.3,412.6 553.2,413.8 554.1,414.9 555.0,416.0 555.9,417.1 556.7,418.0 557.4,419.0 558.2,419.9 559.0,420.8 559.9,421.6 560.9,422.5 562.0,423.3 563.3,424.1 564.6,425.0 566.1,425.8 567.6,426.6 569.3,427.4 571.0,428.1 572.8,428.7 574.7,429.3 576.7,429.8 578.9,430.2 581.2,430.5 583.5,430.7 585.9,431.0 588.3,431.1 590.7,431.3 593.0,431.5 595.2,431.7 597.2,431.8 599.2,431.9 601.2,432.0 603.3,432.0 605.6,432.1 608.2,432.1 611.2,432.2 614.8,432.3 619.1,432.4 623.9,432.5 628.7,432.5 633.5,432.6 637.8,432.7 641.4,432.8 644.0,432.8" fill="none" stroke="#ff0000" stroke-width="1.6" stroke-linejoin="round" stroke-linecap="round" />
<polyline points="392.5,342.2 393.3,341.8 394.3,341.2 395.6,340.4 397.0,339.7 398.5,338.8 400.0,338.0 401.5,337.2 403.0,336.5 404.5,335.8 406.0,335.2 407.5,334.6 409.1,334.0 410.7,333.3 412.2,332.8 413.8,332.2 415.4,331.6 417.0,331.0 418.5,330.5 420.1,329.9 421.6,329.4 423.2,328.9 424.8,328.4 426.4,327.9 428.0,327.5 429.6,327.1 431.2,326.7 432.9,326.4 434.5,326.1 436.2,325.8 437.8,325.6 439.5,325.4 441.2,325.3 442.9,325.3 444.6,325.3 446.3,325.4 448.0,325.6 449.7,325.8 451.5,326.0 453.2,326.2 455.0,326.5 456.8,326.8 458.6,327.1 460.4,327.4 462.3,327.8 464.1,328.2 466.0,328.6 468.0,329.1 470.0,329.6 472.1,330.1 474.4,330.7 476.7,331.3 479.0,332.0 481.3,332.6 483.6,333.3 485.6,334.1 487.5,334.9 489.1,335.7 490.6,336.6 491.9,337.6 493.1,338.5 494.3,339.5 495.5,340.6 496.7,341.7 498.1,342.8 499.6,344.0 501.1,345.2 502.6,346.4 504.2,347.7 505.7,349.0 507.3,350.4 508.9,351.8 510.4,353.3 511.9,354.9 513.5,356.5 515.0,358.2 516.5,360.0 518.0,361.8 519.5,363.7 521.1,365.5 522.6,367.4 524.1,369.2 525.6,371.1 527.1,372.9 528.6,374.8 530.2,376.7 531.7,378.7 533.3,380.9 534.9,383.2 536.6,385.8 538.5,388.7 540.4,391.8 542.3,395.0 544.2,398.1 545.9,401.0 547.6,403.7 549.0,406.0 550.2,407.9 551.3,409.5 552.2,410.8 553.0,411.9 553.8,413.0 554.5,414.0 555.2,414.9 556.0,416.0 556.8,417.1 557.4,418.1 558.0,419.1 558.6,420.1 559.3,421.1 560.1,422.0 560.9,422.9 562.0,423.8 563.2,424.7 564.6,425.6 566.0,426.5 567.6,427.4 569.2,428.3 571.0,429.1 572.8,429.8 574.7,430.5 576.7,431.1 578.9,431.7 581.2,432.1 583.5,432.6 585.9,433.0 588.3,433.4 590.7,433.7 593.0,434.0 595.2,434.3 597.2,434.5 599.2,434.7 601.2,434.8 603.3,435.0 605.6,435.1 608.2,435.2 611.2,435.3 614.8,435.4 619.1,435.5 623.9,435.6 628.7,435.6 633.5,435.7 637.8,435.7 641.4,435.8 644.0,435.8" fill="none" stroke="#ff0000" stroke-width="1.6" stroke-linejoin="round" stroke-linecap="round" />
<polyline points="392.5,451.9 393.1,452.2 393.8,452.6 394.7,453.1 395.7,453.6 396.8,454.1 397.9,454.6 398.9,455.1 400.0,455.5 401.0,455.9 402.1,456.3 403.1,456.6 404.2,457.0 405.3,457.3 406.4,457.5 407.6,457.6 408.8,457.5 410.0,457.4 411.2,457.3 412.4,457.1 413.7,456.8 415.0,456.4 416.5,455.7 418.2,454.7 420.1,453.3 422.3,451.4 424.8,449.1 427.4,446.4 430.2,443.6 433.1,440.6 435.9,437.6 438.6,434.8 441.1,432.3 443.4,430.0 445.6,427.9 447.7,425.8 449.7,423.8 451.7,421.9 453.8,419.9 455.9,418.0 458.0,416.0 460.2,414.0 462.6,412.1 464.9,410.3 467.3,408.4 469.6,406.5 471.9,404.5 474.1,402.3 476.2,400.0 478.2,397.5 480.0,394.7 481.8,391.8 483.6,388.9 485.2,385.9 486.9,382.8 488.4,379.9 490.0,377.0 491.5,374.1 493.1,371.1 494.6,368.1 496.0,365.1 497.4,362.2 498.7,359.5 499.9,357.1 500.9,355.0 501.8,353.3 502.5,351.9 503.1,350.8 503.6,349.9 504.1,349.1 504.5,348.3 505.0,347.5 505.5,346.5 506.0,345.5 506.5,344.5 507.0,343.6 507.5,342.6 508.0,341.7 508.5,340.6 509.1,339.5 509.8,338.3 510.5,336.9 511.4,335.4 512.2,333.8 513.1,332.2 514.1,330.5 515.0,328.9 515.9,327.4 516.8,326.0 517.7,324.7 518.5,323.5 519.4,322.3 520.2,321.1 521.1,320.1 521.9,319.1 522.8,318.1 523.8,317.3 524.8,316.5 525.9,315.8 526.9,315.2 528.0,314.6 529.2,314.1 530.3,313.8 531.4,313.5 532.5,313.4 533.6,313.4 534.7,313.5 535.8,313.7 536.9,314.1 538.0,314.5 539.1,315.0 540.2,315.7 541.3,316.4 542.4,317.3 543.5,318.3 544.7,319.4 545.8,320.6 546.9,321.9 548.0,323.2 549.0,324.6 550.0,326.0 550.9,327.4 551.6,328.8 552.3,330.2 553.0,331.7 553.7,333.3 554.4,335.0 555.1,336.8 556.0,338.8 557.0,341.0 558.0,343.4 559.1,345.9 560.2,348.6 561.3,351.3 562.5,354.0 563.6,356.6 564.7,359.2 565.8,361.7 566.9,364.3 567.9,366.9 569.0,369.5 570.1,372.0 571.1,374.4 572.1,376.7 573.0,378.7 573.9,380.5 574.7,382.1 575.4,383.6 576.1,384.9 576.8,386.2 577.5,387.5 578.2,388.7 579.0,390.0 579.8,391.3 580.5,392.5 581.2,393.7 581.9,394.9 582.7,396.1 583.6,397.4 584.5,398.6 585.5,400.0 586.6,401.5 587.9,403.0 589.1,404.6 590.5,406.3 591.9,407.9 593.4,409.5 594.9,410.9 596.4,412.3 598.0,413.5 599.5,414.7 601.2,415.8 602.9,416.8 604.6,417.8 606.3,418.7 608.1,419.6 610.0,420.5 611.9,421.3 613.9,422.1 615.9,422.9 617.9,423.6 620.0,424.3 622.1,424.9 624.3,425.5 626.4,426.0 628.7,426.5 631.1,426.9 633.7,427.3 636.2,427.7 638.6,428.0 640.8,428.3 642.6,428.5 644.0,428.7" fill="none" stroke="#ff0000" stroke-width="1.6" stroke-linejoin="round" stroke-linecap="round" />
<polyline points="392.5,459.6 393.1,459.8 393.8,460.0 394.7,460.3 395.7,460.6 396.8,460.9 397.9,461.3 398.9,461.5 400.0,461.8 401.0,462.1 402.1,462.3 403.1,462.6 404.2,462.9 405.3,463.1 406.4,463.3 407.6,463.3 408.8,463.2 410.1,463.0 411.4,462.8 412.7,462.5 414.1,462.1 415.6,461.5 417.0,460.9 418.5,460.0 420.1,459.0 421.7,457.7 423.4,456.3 425.2,454.7 426.9,452.9 428.7,451.0 430.5,449.0 432.3,447.0 434.1,444.9 435.8,442.8 437.5,440.5 439.2,438.2 440.8,435.8 442.5,433.3 444.3,430.7 446.1,428.1 448.1,425.3 450.2,422.4 452.5,419.2 454.9,416.0 457.3,412.6 459.7,409.3 462.1,406.0 464.3,402.9 466.4,400.0 468.3,397.4 470.2,395.0 471.9,392.7 473.6,390.5 475.2,388.4 476.8,386.1 478.4,383.7 480.0,381.0 481.7,378.0 483.4,374.8 485.2,371.4 486.9,367.9 488.6,364.4 490.1,361.0 491.5,357.9 492.7,355.0 493.7,352.5 494.4,350.2 495.0,348.0 495.5,346.0 495.9,344.1 496.3,342.2 496.8,340.3 497.5,338.3 498.3,336.3 499.1,334.2 500.0,332.2 500.9,330.2 501.8,328.3 502.7,326.3 503.6,324.4 504.5,322.5 505.4,320.6 506.2,318.8 507.0,316.9 507.9,315.1 508.7,313.3 509.6,311.6 510.5,310.0 511.5,308.5 512.5,307.0 513.5,305.6 514.6,304.3 515.7,303.0 516.8,301.9 517.9,300.8 519.1,299.8 520.3,298.9 521.5,298.1 522.8,297.5 524.2,296.9 525.6,296.4 526.9,296.0 528.3,295.7 529.6,295.5 530.8,295.4 532.0,295.4 533.1,295.5 534.3,295.8 535.4,296.1 536.4,296.5 537.5,297.0 538.5,297.5 539.5,298.0 540.5,298.6 541.4,299.2 542.2,299.9 543.1,300.7 543.9,301.5 544.8,302.3 545.6,303.2 546.5,304.2 547.4,305.2 548.3,306.2 549.2,307.3 550.2,308.4 551.1,309.6 551.9,310.9 552.8,312.3 553.6,313.8 554.3,315.5 555.0,317.3 555.6,319.2 556.1,321.2 556.7,323.3 557.4,325.4 558.1,327.7 558.9,330.0 559.8,332.4 560.8,334.8 561.9,337.4 563.0,340.0 564.1,342.7 565.3,345.5 566.5,348.4 567.7,351.4 569.0,354.6 570.3,358.2 571.8,361.9 573.2,365.6 574.6,369.3 576.0,372.8 577.2,376.0 578.4,378.7 579.4,381.0 580.3,382.9 581.1,384.6 581.9,386.0 582.7,387.3 583.4,388.5 584.2,389.7 585.0,391.0 585.8,392.3 586.7,393.4 587.5,394.5 588.3,395.5 589.2,396.5 590.1,397.6 591.1,398.7 592.3,400.0 593.6,401.4 595.0,402.9 596.4,404.5 598.0,406.2 599.6,407.8 601.2,409.4 602.9,410.9 604.6,412.3 606.4,413.6 608.2,414.8 610.1,416.0 612.0,417.2 614.0,418.3 615.9,419.3 617.8,420.3 619.6,421.2 621.4,422.1 623.2,422.9 625.0,423.6 626.7,424.3 628.4,425.0 630.1,425.6 631.7,426.2 633.3,426.7 634.9,427.2 636.4,427.6 638.0,428.0 639.5,428.4 640.9,428.7 642.1,429.0 643.2,429.2 644.0,429.4" fill="none" stroke="#ff0000" stroke-width="1.6" stroke-linejoin="round" stroke-linecap="round" />
</svg>
</body></html>
